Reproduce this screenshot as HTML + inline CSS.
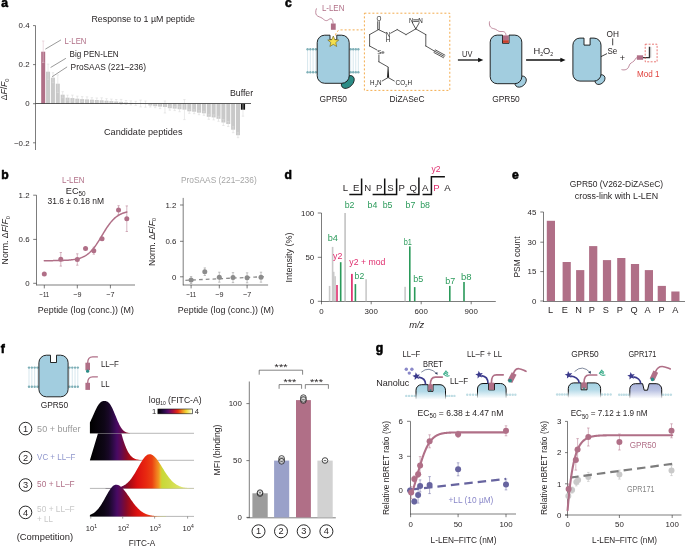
<!DOCTYPE html>
<html><head><meta charset="utf-8"><title>Figure</title>
<style>html,body{margin:0;padding:0;background:#fff}svg{display:block}text{font-family:'Liberation Sans', Arial, sans-serif}</style>
</head><body>
<svg width="685" height="547" viewBox="0 0 685 547" style="will-change:transform;opacity:0.999">
<rect width="685" height="547" fill="#fff"/>
<g id="panel-a">
<text x="1.30" y="6.60" font-size="12.2" fill="#000" font-weight="bold" stroke="#000" stroke-width="0.55" stroke-linejoin="round">a</text>
<text x="91.40" y="21.50" font-size="9.2" fill="#231f20" textLength="103.60" lengthAdjust="spacingAndGlyphs">Response to 1 µM peptide</text>
<line x1="35.50" y1="25.60" x2="35.50" y2="150.00" stroke="#3c3c3c" stroke-width="0.67"/>
<line x1="33.00" y1="25.60" x2="35.50" y2="25.60" stroke="#3c3c3c" stroke-width="0.67"/>
<text x="29.60" y="28.30" font-size="7.6" text-anchor="end" fill="#231f20" textLength="10.99" lengthAdjust="spacingAndGlyphs">0.4</text>
<line x1="33.00" y1="64.60" x2="35.50" y2="64.60" stroke="#3c3c3c" stroke-width="0.67"/>
<text x="29.60" y="67.30" font-size="7.6" text-anchor="end" fill="#231f20" textLength="10.99" lengthAdjust="spacingAndGlyphs">0.2</text>
<line x1="33.00" y1="103.70" x2="35.50" y2="103.70" stroke="#3c3c3c" stroke-width="0.67"/>
<text x="29.60" y="106.40" font-size="7.6" text-anchor="end" fill="#231f20" textLength="4.40" lengthAdjust="spacingAndGlyphs">0</text>
<line x1="33.00" y1="142.80" x2="35.50" y2="142.80" stroke="#3c3c3c" stroke-width="0.67"/>
<text x="29.60" y="145.50" font-size="7.6" text-anchor="end" fill="#231f20" textLength="15.60" lengthAdjust="spacingAndGlyphs">−0.2</text>
<text x="7.00" y="89.40" font-size="9.2" text-anchor="middle" fill="#231f20" textLength="21.80" lengthAdjust="spacingAndGlyphs" transform="rotate(-90 7.00 89.40)">Δ<tspan font-style="italic">F</tspan>/<tspan font-style="italic">F</tspan><tspan dy="1.8" font-size="6">0</tspan></text>
<rect x="41.20" y="51.70" width="4.00" height="52.00" fill="#b06f87"/>
<line x1="43.20" y1="41.00" x2="43.20" y2="62.40" stroke="#e3c3cf" stroke-width="0.6"/>
<line x1="42.00" y1="41.00" x2="44.40" y2="41.00" stroke="#e3c3cf" stroke-width="0.6"/>
<line x1="42.00" y1="62.40" x2="44.40" y2="62.40" stroke="#e3c3cf" stroke-width="0.6"/>
<rect x="46.07" y="71.70" width="4.00" height="32.00" fill="#c9c9c9"/>
<line x1="48.07" y1="64.10" x2="48.07" y2="79.30" stroke="#dcdcdc" stroke-width="0.6"/>
<line x1="46.87" y1="64.10" x2="49.27" y2="64.10" stroke="#dcdcdc" stroke-width="0.6"/>
<line x1="46.87" y1="79.30" x2="49.27" y2="79.30" stroke="#dcdcdc" stroke-width="0.6"/>
<rect x="50.94" y="77.70" width="4.00" height="26.00" fill="#c9c9c9"/>
<line x1="52.94" y1="72.70" x2="52.94" y2="82.70" stroke="#dcdcdc" stroke-width="0.6"/>
<line x1="51.74" y1="72.70" x2="54.14" y2="72.70" stroke="#dcdcdc" stroke-width="0.6"/>
<line x1="51.74" y1="82.70" x2="54.14" y2="82.70" stroke="#dcdcdc" stroke-width="0.6"/>
<rect x="55.81" y="83.70" width="4.00" height="20.00" fill="#c9c9c9"/>
<line x1="57.81" y1="74.90" x2="57.81" y2="92.50" stroke="#dcdcdc" stroke-width="0.6"/>
<line x1="56.61" y1="74.90" x2="59.01" y2="74.90" stroke="#dcdcdc" stroke-width="0.6"/>
<line x1="56.61" y1="92.50" x2="59.01" y2="92.50" stroke="#dcdcdc" stroke-width="0.6"/>
<rect x="60.68" y="94.70" width="4.00" height="9.00" fill="#c9c9c9"/>
<line x1="62.68" y1="91.70" x2="62.68" y2="97.70" stroke="#dcdcdc" stroke-width="0.6"/>
<line x1="61.48" y1="91.70" x2="63.88" y2="91.70" stroke="#dcdcdc" stroke-width="0.6"/>
<line x1="61.48" y1="97.70" x2="63.88" y2="97.70" stroke="#dcdcdc" stroke-width="0.6"/>
<rect x="65.55" y="97.70" width="4.00" height="6.00" fill="#c9c9c9"/>
<line x1="67.55" y1="95.20" x2="67.55" y2="100.20" stroke="#dcdcdc" stroke-width="0.6"/>
<line x1="66.35" y1="95.20" x2="68.75" y2="95.20" stroke="#dcdcdc" stroke-width="0.6"/>
<line x1="66.35" y1="100.20" x2="68.75" y2="100.20" stroke="#dcdcdc" stroke-width="0.6"/>
<rect x="70.42" y="98.10" width="4.00" height="5.60" fill="#c9c9c9"/>
<line x1="72.42" y1="95.10" x2="72.42" y2="101.10" stroke="#dcdcdc" stroke-width="0.6"/>
<line x1="71.22" y1="95.10" x2="73.62" y2="95.10" stroke="#dcdcdc" stroke-width="0.6"/>
<line x1="71.22" y1="101.10" x2="73.62" y2="101.10" stroke="#dcdcdc" stroke-width="0.6"/>
<rect x="75.29" y="98.70" width="4.00" height="5.00" fill="#c9c9c9"/>
<line x1="77.29" y1="96.20" x2="77.29" y2="101.20" stroke="#dcdcdc" stroke-width="0.6"/>
<line x1="76.09" y1="96.20" x2="78.49" y2="96.20" stroke="#dcdcdc" stroke-width="0.6"/>
<line x1="76.09" y1="101.20" x2="78.49" y2="101.20" stroke="#dcdcdc" stroke-width="0.6"/>
<rect x="80.16" y="99.10" width="4.00" height="4.60" fill="#c9c9c9"/>
<line x1="82.16" y1="96.60" x2="82.16" y2="101.60" stroke="#dcdcdc" stroke-width="0.6"/>
<line x1="80.96" y1="96.60" x2="83.36" y2="96.60" stroke="#dcdcdc" stroke-width="0.6"/>
<line x1="80.96" y1="101.60" x2="83.36" y2="101.60" stroke="#dcdcdc" stroke-width="0.6"/>
<rect x="85.03" y="99.40" width="4.00" height="4.30" fill="#c9c9c9"/>
<line x1="87.03" y1="96.90" x2="87.03" y2="101.90" stroke="#dcdcdc" stroke-width="0.6"/>
<line x1="85.83" y1="96.90" x2="88.23" y2="96.90" stroke="#dcdcdc" stroke-width="0.6"/>
<line x1="85.83" y1="101.90" x2="88.23" y2="101.90" stroke="#dcdcdc" stroke-width="0.6"/>
<rect x="89.90" y="99.70" width="4.00" height="4.00" fill="#c9c9c9"/>
<line x1="91.90" y1="97.70" x2="91.90" y2="101.70" stroke="#dcdcdc" stroke-width="0.6"/>
<line x1="90.70" y1="97.70" x2="93.10" y2="97.70" stroke="#dcdcdc" stroke-width="0.6"/>
<line x1="90.70" y1="101.70" x2="93.10" y2="101.70" stroke="#dcdcdc" stroke-width="0.6"/>
<rect x="94.77" y="100.00" width="4.00" height="3.70" fill="#c9c9c9"/>
<line x1="96.77" y1="98.00" x2="96.77" y2="102.00" stroke="#dcdcdc" stroke-width="0.6"/>
<line x1="95.57" y1="98.00" x2="97.97" y2="98.00" stroke="#dcdcdc" stroke-width="0.6"/>
<line x1="95.57" y1="102.00" x2="97.97" y2="102.00" stroke="#dcdcdc" stroke-width="0.6"/>
<rect x="99.64" y="100.30" width="4.00" height="3.40" fill="#c9c9c9"/>
<line x1="101.64" y1="97.80" x2="101.64" y2="102.80" stroke="#dcdcdc" stroke-width="0.6"/>
<line x1="100.44" y1="97.80" x2="102.84" y2="97.80" stroke="#dcdcdc" stroke-width="0.6"/>
<line x1="100.44" y1="102.80" x2="102.84" y2="102.80" stroke="#dcdcdc" stroke-width="0.6"/>
<rect x="104.51" y="100.70" width="4.00" height="3.00" fill="#c9c9c9"/>
<line x1="106.51" y1="98.70" x2="106.51" y2="102.70" stroke="#dcdcdc" stroke-width="0.6"/>
<line x1="105.31" y1="98.70" x2="107.71" y2="98.70" stroke="#dcdcdc" stroke-width="0.6"/>
<line x1="105.31" y1="102.70" x2="107.71" y2="102.70" stroke="#dcdcdc" stroke-width="0.6"/>
<rect x="109.38" y="101.10" width="4.00" height="2.60" fill="#c9c9c9"/>
<line x1="111.38" y1="99.10" x2="111.38" y2="103.10" stroke="#dcdcdc" stroke-width="0.6"/>
<line x1="110.18" y1="99.10" x2="112.58" y2="99.10" stroke="#dcdcdc" stroke-width="0.6"/>
<line x1="110.18" y1="103.10" x2="112.58" y2="103.10" stroke="#dcdcdc" stroke-width="0.6"/>
<rect x="114.25" y="101.50" width="4.00" height="2.20" fill="#c9c9c9"/>
<line x1="116.25" y1="99.50" x2="116.25" y2="103.50" stroke="#dcdcdc" stroke-width="0.6"/>
<line x1="115.05" y1="99.50" x2="117.45" y2="99.50" stroke="#dcdcdc" stroke-width="0.6"/>
<line x1="115.05" y1="103.50" x2="117.45" y2="103.50" stroke="#dcdcdc" stroke-width="0.6"/>
<rect x="119.12" y="101.90" width="4.00" height="1.80" fill="#c9c9c9"/>
<line x1="121.12" y1="99.40" x2="121.12" y2="104.40" stroke="#dcdcdc" stroke-width="0.6"/>
<line x1="119.92" y1="99.40" x2="122.32" y2="99.40" stroke="#dcdcdc" stroke-width="0.6"/>
<line x1="119.92" y1="104.40" x2="122.32" y2="104.40" stroke="#dcdcdc" stroke-width="0.6"/>
<rect x="123.99" y="102.50" width="4.00" height="1.20" fill="#c9c9c9"/>
<line x1="125.99" y1="100.50" x2="125.99" y2="104.50" stroke="#dcdcdc" stroke-width="0.6"/>
<line x1="124.79" y1="100.50" x2="127.19" y2="100.50" stroke="#dcdcdc" stroke-width="0.6"/>
<line x1="124.79" y1="104.50" x2="127.19" y2="104.50" stroke="#dcdcdc" stroke-width="0.6"/>
<rect x="128.86" y="102.90" width="4.00" height="0.80" fill="#c9c9c9"/>
<line x1="130.86" y1="100.90" x2="130.86" y2="104.90" stroke="#dcdcdc" stroke-width="0.6"/>
<line x1="129.66" y1="100.90" x2="132.06" y2="100.90" stroke="#dcdcdc" stroke-width="0.6"/>
<line x1="129.66" y1="104.90" x2="132.06" y2="104.90" stroke="#dcdcdc" stroke-width="0.6"/>
<rect x="133.73" y="103.30" width="4.00" height="0.40" fill="#c9c9c9"/>
<line x1="135.73" y1="101.30" x2="135.73" y2="105.30" stroke="#dcdcdc" stroke-width="0.6"/>
<line x1="134.53" y1="101.30" x2="136.93" y2="101.30" stroke="#dcdcdc" stroke-width="0.6"/>
<line x1="134.53" y1="105.30" x2="136.93" y2="105.30" stroke="#dcdcdc" stroke-width="0.6"/>
<rect x="138.60" y="103.50" width="4.00" height="0.20" fill="#c9c9c9"/>
<line x1="140.60" y1="100.10" x2="140.60" y2="106.90" stroke="#dcdcdc" stroke-width="0.6"/>
<line x1="139.40" y1="100.10" x2="141.80" y2="100.10" stroke="#dcdcdc" stroke-width="0.6"/>
<line x1="139.40" y1="106.90" x2="141.80" y2="106.90" stroke="#dcdcdc" stroke-width="0.6"/>
<rect x="143.47" y="103.70" width="4.00" height="0.40" fill="#c9c9c9"/>
<line x1="145.47" y1="101.00" x2="145.47" y2="107.20" stroke="#dcdcdc" stroke-width="0.6"/>
<line x1="144.27" y1="101.00" x2="146.67" y2="101.00" stroke="#dcdcdc" stroke-width="0.6"/>
<line x1="144.27" y1="107.20" x2="146.67" y2="107.20" stroke="#dcdcdc" stroke-width="0.6"/>
<rect x="148.34" y="103.70" width="4.00" height="1.80" fill="#c9c9c9"/>
<line x1="150.34" y1="104.00" x2="150.34" y2="107.00" stroke="#dcdcdc" stroke-width="0.6"/>
<line x1="149.14" y1="104.00" x2="151.54" y2="104.00" stroke="#dcdcdc" stroke-width="0.6"/>
<line x1="149.14" y1="107.00" x2="151.54" y2="107.00" stroke="#dcdcdc" stroke-width="0.6"/>
<rect x="153.21" y="103.70" width="4.00" height="2.50" fill="#c9c9c9"/>
<line x1="155.21" y1="104.70" x2="155.21" y2="107.70" stroke="#dcdcdc" stroke-width="0.6"/>
<line x1="154.01" y1="104.70" x2="156.41" y2="104.70" stroke="#dcdcdc" stroke-width="0.6"/>
<line x1="154.01" y1="107.70" x2="156.41" y2="107.70" stroke="#dcdcdc" stroke-width="0.6"/>
<rect x="158.08" y="103.70" width="4.00" height="2.90" fill="#c9c9c9"/>
<line x1="160.08" y1="104.60" x2="160.08" y2="108.60" stroke="#dcdcdc" stroke-width="0.6"/>
<line x1="158.88" y1="104.60" x2="161.28" y2="104.60" stroke="#dcdcdc" stroke-width="0.6"/>
<line x1="158.88" y1="108.60" x2="161.28" y2="108.60" stroke="#dcdcdc" stroke-width="0.6"/>
<rect x="162.95" y="103.70" width="4.00" height="3.30" fill="#c9c9c9"/>
<line x1="164.95" y1="101.00" x2="164.95" y2="113.00" stroke="#dcdcdc" stroke-width="0.6"/>
<line x1="163.75" y1="101.00" x2="166.15" y2="101.00" stroke="#dcdcdc" stroke-width="0.6"/>
<line x1="163.75" y1="113.00" x2="166.15" y2="113.00" stroke="#dcdcdc" stroke-width="0.6"/>
<rect x="167.82" y="103.70" width="4.00" height="4.50" fill="#c9c9c9"/>
<line x1="169.82" y1="106.20" x2="169.82" y2="110.20" stroke="#dcdcdc" stroke-width="0.6"/>
<line x1="168.62" y1="106.20" x2="171.02" y2="106.20" stroke="#dcdcdc" stroke-width="0.6"/>
<line x1="168.62" y1="110.20" x2="171.02" y2="110.20" stroke="#dcdcdc" stroke-width="0.6"/>
<rect x="172.69" y="103.70" width="4.00" height="4.90" fill="#c9c9c9"/>
<line x1="174.69" y1="106.60" x2="174.69" y2="110.60" stroke="#dcdcdc" stroke-width="0.6"/>
<line x1="173.49" y1="106.60" x2="175.89" y2="106.60" stroke="#dcdcdc" stroke-width="0.6"/>
<line x1="173.49" y1="110.60" x2="175.89" y2="110.60" stroke="#dcdcdc" stroke-width="0.6"/>
<rect x="177.56" y="103.70" width="4.00" height="5.50" fill="#c9c9c9"/>
<line x1="179.56" y1="106.70" x2="179.56" y2="111.70" stroke="#dcdcdc" stroke-width="0.6"/>
<line x1="178.36" y1="106.70" x2="180.76" y2="106.70" stroke="#dcdcdc" stroke-width="0.6"/>
<line x1="178.36" y1="111.70" x2="180.76" y2="111.70" stroke="#dcdcdc" stroke-width="0.6"/>
<rect x="182.43" y="103.70" width="4.00" height="5.90" fill="#c9c9c9"/>
<line x1="184.43" y1="99.60" x2="184.43" y2="119.60" stroke="#dcdcdc" stroke-width="0.6"/>
<line x1="183.23" y1="99.60" x2="185.63" y2="99.60" stroke="#dcdcdc" stroke-width="0.6"/>
<line x1="183.23" y1="119.60" x2="185.63" y2="119.60" stroke="#dcdcdc" stroke-width="0.6"/>
<rect x="187.30" y="103.70" width="4.00" height="7.60" fill="#c9c9c9"/>
<line x1="189.30" y1="109.30" x2="189.30" y2="113.30" stroke="#dcdcdc" stroke-width="0.6"/>
<line x1="188.10" y1="109.30" x2="190.50" y2="109.30" stroke="#dcdcdc" stroke-width="0.6"/>
<line x1="188.10" y1="113.30" x2="190.50" y2="113.30" stroke="#dcdcdc" stroke-width="0.6"/>
<rect x="192.17" y="103.70" width="4.00" height="8.00" fill="#c9c9c9"/>
<line x1="194.17" y1="109.70" x2="194.17" y2="113.70" stroke="#dcdcdc" stroke-width="0.6"/>
<line x1="192.97" y1="109.70" x2="195.37" y2="109.70" stroke="#dcdcdc" stroke-width="0.6"/>
<line x1="192.97" y1="113.70" x2="195.37" y2="113.70" stroke="#dcdcdc" stroke-width="0.6"/>
<rect x="197.04" y="103.70" width="4.00" height="9.00" fill="#c9c9c9"/>
<line x1="199.04" y1="110.70" x2="199.04" y2="114.70" stroke="#dcdcdc" stroke-width="0.6"/>
<line x1="197.84" y1="110.70" x2="200.24" y2="110.70" stroke="#dcdcdc" stroke-width="0.6"/>
<line x1="197.84" y1="114.70" x2="200.24" y2="114.70" stroke="#dcdcdc" stroke-width="0.6"/>
<rect x="201.91" y="103.70" width="4.00" height="9.60" fill="#c9c9c9"/>
<line x1="203.91" y1="111.30" x2="203.91" y2="115.30" stroke="#dcdcdc" stroke-width="0.6"/>
<line x1="202.71" y1="111.30" x2="205.11" y2="111.30" stroke="#dcdcdc" stroke-width="0.6"/>
<line x1="202.71" y1="115.30" x2="205.11" y2="115.30" stroke="#dcdcdc" stroke-width="0.6"/>
<rect x="206.78" y="103.70" width="4.00" height="13.10" fill="#c9c9c9"/>
<line x1="208.78" y1="114.30" x2="208.78" y2="119.30" stroke="#dcdcdc" stroke-width="0.6"/>
<line x1="207.58" y1="114.30" x2="209.98" y2="114.30" stroke="#dcdcdc" stroke-width="0.6"/>
<line x1="207.58" y1="119.30" x2="209.98" y2="119.30" stroke="#dcdcdc" stroke-width="0.6"/>
<rect x="211.65" y="103.70" width="4.00" height="13.70" fill="#c9c9c9"/>
<line x1="213.65" y1="114.90" x2="213.65" y2="119.90" stroke="#dcdcdc" stroke-width="0.6"/>
<line x1="212.45" y1="114.90" x2="214.85" y2="114.90" stroke="#dcdcdc" stroke-width="0.6"/>
<line x1="212.45" y1="119.90" x2="214.85" y2="119.90" stroke="#dcdcdc" stroke-width="0.6"/>
<rect x="216.52" y="103.70" width="4.00" height="15.10" fill="#c9c9c9"/>
<line x1="218.52" y1="116.30" x2="218.52" y2="121.30" stroke="#dcdcdc" stroke-width="0.6"/>
<line x1="217.32" y1="116.30" x2="219.72" y2="116.30" stroke="#dcdcdc" stroke-width="0.6"/>
<line x1="217.32" y1="121.30" x2="219.72" y2="121.30" stroke="#dcdcdc" stroke-width="0.6"/>
<rect x="221.39" y="103.70" width="4.00" height="18.80" fill="#c9c9c9"/>
<line x1="223.39" y1="119.50" x2="223.39" y2="125.50" stroke="#dcdcdc" stroke-width="0.6"/>
<line x1="222.19" y1="119.50" x2="224.59" y2="119.50" stroke="#dcdcdc" stroke-width="0.6"/>
<line x1="222.19" y1="125.50" x2="224.59" y2="125.50" stroke="#dcdcdc" stroke-width="0.6"/>
<rect x="226.26" y="103.70" width="4.00" height="20.30" fill="#c9c9c9"/>
<line x1="228.26" y1="121.50" x2="228.26" y2="126.50" stroke="#dcdcdc" stroke-width="0.6"/>
<line x1="227.06" y1="121.50" x2="229.46" y2="121.50" stroke="#dcdcdc" stroke-width="0.6"/>
<line x1="227.06" y1="126.50" x2="229.46" y2="126.50" stroke="#dcdcdc" stroke-width="0.6"/>
<rect x="231.13" y="103.70" width="4.00" height="26.00" fill="#c9c9c9"/>
<line x1="233.13" y1="126.70" x2="233.13" y2="132.70" stroke="#dcdcdc" stroke-width="0.6"/>
<line x1="231.93" y1="126.70" x2="234.33" y2="126.70" stroke="#dcdcdc" stroke-width="0.6"/>
<line x1="231.93" y1="132.70" x2="234.33" y2="132.70" stroke="#dcdcdc" stroke-width="0.6"/>
<rect x="236.00" y="103.70" width="4.00" height="31.50" fill="#c9c9c9"/>
<line x1="238.00" y1="132.70" x2="238.00" y2="137.70" stroke="#dcdcdc" stroke-width="0.6"/>
<line x1="236.80" y1="132.70" x2="239.20" y2="132.70" stroke="#dcdcdc" stroke-width="0.6"/>
<line x1="236.80" y1="137.70" x2="239.20" y2="137.70" stroke="#dcdcdc" stroke-width="0.6"/>
<rect x="240.87" y="103.70" width="4.20" height="6.00" fill="#111"/>
<line x1="242.97" y1="103.70" x2="242.97" y2="116.20" stroke="#dcdcdc" stroke-width="0.6"/>
<line x1="241.77" y1="116.20" x2="244.17" y2="116.20" stroke="#dcdcdc" stroke-width="0.6"/>
<line x1="35.50" y1="103.50" x2="251.00" y2="103.50" stroke="#333" stroke-width="0.8"/>
<text x="64.50" y="43.60" font-size="9.2" fill="#b06f87" textLength="21.90" lengthAdjust="spacingAndGlyphs">L-LEN</text>
<text x="69.60" y="56.70" font-size="9.2" fill="#231f20" textLength="49.10" lengthAdjust="spacingAndGlyphs">Big PEN-LEN</text>
<text x="70.60" y="69.60" font-size="9.2" fill="#231f20" textLength="75.40" lengthAdjust="spacingAndGlyphs">ProSAAS (221–236)</text>
<line x1="45.40" y1="49.10" x2="61.00" y2="39.90" stroke="#555" stroke-width="0.6"/>
<line x1="50.60" y1="67.50" x2="65.90" y2="58.30" stroke="#555" stroke-width="0.6"/>
<line x1="52.20" y1="76.70" x2="67.10" y2="66.90" stroke="#555" stroke-width="0.6"/>
<text x="229.90" y="96.30" font-size="9.2" fill="#231f20" textLength="23.30" lengthAdjust="spacingAndGlyphs">Buffer</text>
<text x="104.00" y="134.80" font-size="9.2" fill="#231f20" textLength="78.50" lengthAdjust="spacingAndGlyphs">Candidate peptides</text>
</g>
<g id="panel-b">
<text x="1.30" y="179.00" font-size="12.2" fill="#000" font-weight="bold" stroke="#000" stroke-width="0.55" stroke-linejoin="round">b</text>
<text x="62.00" y="182.50" font-size="9.2" fill="#b06f87" textLength="22.50" lengthAdjust="spacingAndGlyphs">L-LEN</text>
<text x="75.70" y="193.80" font-size="9.2" text-anchor="middle" fill="#231f20">EC<tspan dy="2" font-size="6.4">50</tspan></text>
<text x="47.50" y="204.40" font-size="9.2" fill="#231f20" textLength="56.50" lengthAdjust="spacingAndGlyphs">31.6 ± 0.18 nM</text>
<line x1="36.50" y1="195.20" x2="36.50" y2="285.30" stroke="#3c3c3c" stroke-width="0.67"/>
<line x1="36.20" y1="285.00" x2="135.00" y2="285.00" stroke="#3c3c3c" stroke-width="0.67"/>
<line x1="33.20" y1="195.20" x2="36.50" y2="195.20" stroke="#3c3c3c" stroke-width="0.67"/>
<text x="29.60" y="197.90" font-size="7.6" text-anchor="end" fill="#231f20" textLength="10.99" lengthAdjust="spacingAndGlyphs">1.2</text>
<line x1="33.20" y1="239.40" x2="36.50" y2="239.40" stroke="#3c3c3c" stroke-width="0.67"/>
<text x="29.60" y="242.10" font-size="7.6" text-anchor="end" fill="#231f20" textLength="10.99" lengthAdjust="spacingAndGlyphs">0.6</text>
<line x1="33.20" y1="283.30" x2="36.50" y2="283.30" stroke="#3c3c3c" stroke-width="0.67"/>
<text x="29.60" y="286.00" font-size="7.6" text-anchor="end" fill="#231f20" textLength="4.40" lengthAdjust="spacingAndGlyphs">0</text>
<line x1="44.30" y1="285.00" x2="44.30" y2="288.40" stroke="#3c3c3c" stroke-width="0.67"/>
<text x="44.30" y="297.20" font-size="7.6" text-anchor="middle" fill="#231f20" textLength="9.86" lengthAdjust="spacingAndGlyphs">−11</text>
<line x1="77.30" y1="285.00" x2="77.30" y2="288.40" stroke="#3c3c3c" stroke-width="0.67"/>
<text x="77.30" y="297.20" font-size="7.6" text-anchor="middle" fill="#231f20" textLength="8.23" lengthAdjust="spacingAndGlyphs">−9</text>
<line x1="110.40" y1="285.00" x2="110.40" y2="288.40" stroke="#3c3c3c" stroke-width="0.67"/>
<text x="110.40" y="297.20" font-size="7.6" text-anchor="middle" fill="#231f20" textLength="8.23" lengthAdjust="spacingAndGlyphs">−7</text>
<text x="37.80" y="312.80" font-size="9.2" fill="#231f20" textLength="96.10" lengthAdjust="spacingAndGlyphs">Peptide (log (conc.)) (M)</text>
<text x="8.00" y="240.20" font-size="9.2" text-anchor="middle" fill="#231f20" textLength="48.40" lengthAdjust="spacingAndGlyphs" transform="rotate(-90 8.00 240.20)">Norm. Δ<tspan font-style="italic">F</tspan>/<tspan font-style="italic">F</tspan><tspan dy="1.8" font-size="6">0</tspan></text>
<path d="M44.30 260.68 L45.13 260.67 L45.95 260.67 L46.78 260.67 L47.60 260.66 L48.42 260.66 L49.25 260.65 L50.07 260.65 L50.90 260.64 L51.72 260.64 L52.55 260.63 L53.38 260.62 L54.20 260.61 L55.03 260.60 L55.85 260.59 L56.67 260.58 L57.50 260.56 L58.32 260.55 L59.15 260.53 L59.97 260.51 L60.80 260.49 L61.63 260.46 L62.45 260.44 L63.28 260.41 L64.10 260.37 L64.92 260.33 L65.75 260.29 L66.57 260.25 L67.40 260.19 L68.22 260.14 L69.05 260.07 L69.88 260.00 L70.70 259.92 L71.53 259.83 L72.35 259.73 L73.17 259.62 L74.00 259.50 L74.82 259.37 L75.65 259.22 L76.47 259.05 L77.30 258.87 L78.12 258.67 L78.95 258.44 L79.78 258.20 L80.60 257.92 L81.42 257.62 L82.25 257.29 L83.07 256.92 L83.90 256.52 L84.72 256.09 L85.55 255.61 L86.38 255.08 L87.20 254.51 L88.03 253.89 L88.85 253.22 L89.67 252.50 L90.50 251.72 L91.32 250.88 L92.15 249.99 L92.97 249.04 L93.80 248.03 L94.62 246.96 L95.45 245.84 L96.28 244.67 L97.10 243.45 L97.92 242.19 L98.75 240.89 L99.57 239.56 L100.40 238.20 L101.22 236.83 L102.05 235.45 L102.88 234.07 L103.70 232.70 L104.53 231.34 L105.35 230.01 L106.17 228.71 L107.00 227.45 L107.82 226.23 L108.65 225.06 L109.47 223.94 L110.30 222.87 L111.12 221.86 L111.95 220.91 L112.78 220.02 L113.60 219.18 L114.42 218.40 L115.25 217.68 L116.07 217.01 L116.90 216.39 L117.72 215.82 L118.55 215.29 L119.38 214.81 L120.20 214.38 L121.03 213.98 L121.85 213.61 L122.67 213.28 L123.50 212.98 L124.32 212.70 L125.15 212.46 L125.97 212.23 L126.80 212.03" fill="none" stroke="#b06f87" stroke-width="1.5" stroke-linecap="round"/>
<line x1="60.80" y1="252.50" x2="60.80" y2="266.10" stroke="#b06f87" stroke-width="0.5"/>
<line x1="59.60" y1="252.50" x2="62.00" y2="252.50" stroke="#b06f87" stroke-width="0.5"/>
<line x1="59.60" y1="266.10" x2="62.00" y2="266.10" stroke="#b06f87" stroke-width="0.5"/>
<line x1="77.30" y1="253.80" x2="77.30" y2="265.20" stroke="#b06f87" stroke-width="0.5"/>
<line x1="76.10" y1="253.80" x2="78.50" y2="253.80" stroke="#b06f87" stroke-width="0.5"/>
<line x1="76.10" y1="265.20" x2="78.50" y2="265.20" stroke="#b06f87" stroke-width="0.5"/>
<line x1="93.80" y1="247.20" x2="93.80" y2="254.20" stroke="#b06f87" stroke-width="0.5"/>
<line x1="92.60" y1="247.20" x2="95.00" y2="247.20" stroke="#b06f87" stroke-width="0.5"/>
<line x1="92.60" y1="254.20" x2="95.00" y2="254.20" stroke="#b06f87" stroke-width="0.5"/>
<line x1="118.55" y1="205.70" x2="118.55" y2="214.50" stroke="#b06f87" stroke-width="0.5"/>
<line x1="117.35" y1="205.70" x2="119.75" y2="205.70" stroke="#b06f87" stroke-width="0.5"/>
<line x1="117.35" y1="214.50" x2="119.75" y2="214.50" stroke="#b06f87" stroke-width="0.5"/>
<line x1="126.80" y1="205.90" x2="126.80" y2="231.50" stroke="#b06f87" stroke-width="0.5"/>
<line x1="125.60" y1="205.90" x2="128.00" y2="205.90" stroke="#b06f87" stroke-width="0.5"/>
<line x1="125.60" y1="231.50" x2="128.00" y2="231.50" stroke="#b06f87" stroke-width="0.5"/>
<circle cx="44.30" cy="274.10" r="2.5" fill="#b06f87"/>
<circle cx="60.80" cy="259.30" r="2.5" fill="#b06f87"/>
<circle cx="77.30" cy="259.50" r="2.5" fill="#b06f87"/>
<circle cx="85.55" cy="248.60" r="2.5" fill="#b06f87"/>
<circle cx="93.80" cy="250.70" r="2.5" fill="#b06f87"/>
<circle cx="102.05" cy="238.80" r="2.5" fill="#b06f87"/>
<circle cx="118.55" cy="210.10" r="2.5" fill="#b06f87"/>
<circle cx="126.80" cy="218.70" r="2.5" fill="#b06f87"/>
<text x="180.90" y="182.90" font-size="9.2" fill="#a6a6a6" textLength="75.80" lengthAdjust="spacingAndGlyphs">ProSAAS (221–236)</text>
<line x1="183.20" y1="197.90" x2="183.20" y2="285.30" stroke="#3c3c3c" stroke-width="0.67"/>
<line x1="182.90" y1="285.00" x2="268.10" y2="285.00" stroke="#3c3c3c" stroke-width="0.67"/>
<line x1="180.00" y1="205.00" x2="183.20" y2="205.00" stroke="#3c3c3c" stroke-width="0.67"/>
<text x="176.40" y="207.70" font-size="7.6" text-anchor="end" fill="#231f20" textLength="10.99" lengthAdjust="spacingAndGlyphs">1.2</text>
<line x1="180.00" y1="241.30" x2="183.20" y2="241.30" stroke="#3c3c3c" stroke-width="0.67"/>
<text x="176.40" y="244.00" font-size="7.6" text-anchor="end" fill="#231f20" textLength="10.99" lengthAdjust="spacingAndGlyphs">0.6</text>
<line x1="180.00" y1="276.80" x2="183.20" y2="276.80" stroke="#3c3c3c" stroke-width="0.67"/>
<text x="176.40" y="279.50" font-size="7.6" text-anchor="end" fill="#231f20" textLength="4.40" lengthAdjust="spacingAndGlyphs">0</text>
<line x1="191.10" y1="285.00" x2="191.10" y2="288.40" stroke="#3c3c3c" stroke-width="0.67"/>
<text x="191.10" y="297.20" font-size="7.6" text-anchor="middle" fill="#231f20" textLength="9.86" lengthAdjust="spacingAndGlyphs">−11</text>
<line x1="219.30" y1="285.00" x2="219.30" y2="288.40" stroke="#3c3c3c" stroke-width="0.67"/>
<text x="219.30" y="297.20" font-size="7.6" text-anchor="middle" fill="#231f20" textLength="8.23" lengthAdjust="spacingAndGlyphs">−9</text>
<line x1="247.10" y1="285.00" x2="247.10" y2="288.40" stroke="#3c3c3c" stroke-width="0.67"/>
<text x="247.10" y="297.20" font-size="7.6" text-anchor="middle" fill="#231f20" textLength="8.23" lengthAdjust="spacingAndGlyphs">−7</text>
<text x="177.80" y="312.80" font-size="9.2" fill="#231f20" textLength="96.10" lengthAdjust="spacingAndGlyphs">Peptide (log (conc.)) (M)</text>
<text x="154.70" y="241.90" font-size="9.2" text-anchor="middle" fill="#231f20" textLength="48.40" lengthAdjust="spacingAndGlyphs" transform="rotate(-90 154.70 241.90)">Norm. Δ<tspan font-style="italic">F</tspan>/<tspan font-style="italic">F</tspan><tspan dy="1.8" font-size="6">0</tspan></text>
<line x1="185.40" y1="280.30" x2="265.70" y2="276.60" stroke="#8c8c8c" stroke-width="1.3" stroke-dasharray="3.7 3.1"/>
<line x1="191.10" y1="276.50" x2="191.10" y2="283.50" stroke="#8c8c8c" stroke-width="0.5"/>
<line x1="189.90" y1="276.50" x2="192.30" y2="276.50" stroke="#8c8c8c" stroke-width="0.5"/>
<line x1="189.90" y1="283.50" x2="192.30" y2="283.50" stroke="#8c8c8c" stroke-width="0.5"/>
<line x1="204.80" y1="267.90" x2="204.80" y2="275.50" stroke="#8c8c8c" stroke-width="0.5"/>
<line x1="203.60" y1="267.90" x2="206.00" y2="267.90" stroke="#8c8c8c" stroke-width="0.5"/>
<line x1="203.60" y1="275.50" x2="206.00" y2="275.50" stroke="#8c8c8c" stroke-width="0.5"/>
<line x1="219.30" y1="272.20" x2="219.30" y2="282.20" stroke="#8c8c8c" stroke-width="0.5"/>
<line x1="218.10" y1="272.20" x2="220.50" y2="272.20" stroke="#8c8c8c" stroke-width="0.5"/>
<line x1="218.10" y1="282.20" x2="220.50" y2="282.20" stroke="#8c8c8c" stroke-width="0.5"/>
<line x1="233.00" y1="272.60" x2="233.00" y2="282.60" stroke="#8c8c8c" stroke-width="0.5"/>
<line x1="231.80" y1="272.60" x2="234.20" y2="272.60" stroke="#8c8c8c" stroke-width="0.5"/>
<line x1="231.80" y1="282.60" x2="234.20" y2="282.60" stroke="#8c8c8c" stroke-width="0.5"/>
<line x1="247.10" y1="272.80" x2="247.10" y2="282.80" stroke="#8c8c8c" stroke-width="0.5"/>
<line x1="245.90" y1="272.80" x2="248.30" y2="272.80" stroke="#8c8c8c" stroke-width="0.5"/>
<line x1="245.90" y1="282.80" x2="248.30" y2="282.80" stroke="#8c8c8c" stroke-width="0.5"/>
<line x1="261.00" y1="272.20" x2="261.00" y2="282.20" stroke="#8c8c8c" stroke-width="0.5"/>
<line x1="259.80" y1="272.20" x2="262.20" y2="272.20" stroke="#8c8c8c" stroke-width="0.5"/>
<line x1="259.80" y1="282.20" x2="262.20" y2="282.20" stroke="#8c8c8c" stroke-width="0.5"/>
<circle cx="191.10" cy="280.00" r="2.5" fill="#8c8c8c"/>
<circle cx="204.80" cy="271.70" r="2.5" fill="#8c8c8c"/>
<circle cx="219.30" cy="277.20" r="2.5" fill="#8c8c8c"/>
<circle cx="233.00" cy="277.60" r="2.5" fill="#8c8c8c"/>
<circle cx="247.10" cy="277.80" r="2.5" fill="#8c8c8c"/>
<circle cx="261.00" cy="277.20" r="2.5" fill="#8c8c8c"/>
</g>
<g id="panel-c">
<text x="285.00" y="7.00" font-size="12.2" fill="#000" font-weight="bold" stroke="#000" stroke-width="0.55" stroke-linejoin="round">c</text>
<line x1="307.57" y1="49.20" x2="307.57" y2="72.30" stroke="#c5dde6" stroke-width="0.7"/>
<circle cx="307.57" cy="49.20" r="1.2" fill="#7fb0b8"/>
<circle cx="307.57" cy="72.30" r="1.2" fill="#7fb0b8"/>
<line x1="310.32" y1="49.20" x2="310.32" y2="72.30" stroke="#c5dde6" stroke-width="0.7"/>
<circle cx="310.32" cy="49.20" r="1.2" fill="#7fb0b8"/>
<circle cx="310.32" cy="72.30" r="1.2" fill="#7fb0b8"/>
<line x1="313.07" y1="49.20" x2="313.07" y2="72.30" stroke="#c5dde6" stroke-width="0.7"/>
<circle cx="313.07" cy="49.20" r="1.2" fill="#7fb0b8"/>
<circle cx="313.07" cy="72.30" r="1.2" fill="#7fb0b8"/>
<line x1="315.82" y1="49.20" x2="315.82" y2="72.30" stroke="#c5dde6" stroke-width="0.7"/>
<circle cx="315.82" cy="49.20" r="1.2" fill="#7fb0b8"/>
<circle cx="315.82" cy="72.30" r="1.2" fill="#7fb0b8"/>
<line x1="350.67" y1="49.20" x2="350.67" y2="72.30" stroke="#c5dde6" stroke-width="0.7"/>
<circle cx="350.67" cy="49.20" r="1.2" fill="#7fb0b8"/>
<circle cx="350.67" cy="72.30" r="1.2" fill="#7fb0b8"/>
<line x1="353.23" y1="49.20" x2="353.23" y2="72.30" stroke="#c5dde6" stroke-width="0.7"/>
<circle cx="353.23" cy="49.20" r="1.2" fill="#7fb0b8"/>
<circle cx="353.23" cy="72.30" r="1.2" fill="#7fb0b8"/>
<line x1="355.77" y1="49.20" x2="355.77" y2="72.30" stroke="#c5dde6" stroke-width="0.7"/>
<circle cx="355.77" cy="49.20" r="1.2" fill="#7fb0b8"/>
<circle cx="355.77" cy="72.30" r="1.2" fill="#7fb0b8"/>
<line x1="358.33" y1="49.20" x2="358.33" y2="72.30" stroke="#c5dde6" stroke-width="0.7"/>
<circle cx="358.33" cy="49.20" r="1.2" fill="#7fb0b8"/>
<circle cx="358.33" cy="72.30" r="1.2" fill="#7fb0b8"/>
<ellipse cx="347.8" cy="82" rx="7.6" ry="5.1" transform="rotate(-45 347.8 82)" fill="#2b8c86" stroke="#111" stroke-width="0.8"/>
<path d="M324.70 35.20 H330.00 V39.80 H336.80 V35.20 H341.70 A7.5 7.5 0 0 1 349.20 42.70 V75.80 A7.5 7.5 0 0 1 341.70 83.30 H324.70 A7.5 7.5 0 0 1 317.20 75.80 V42.70 A7.5 7.5 0 0 1 324.70 35.20 Z" fill="#a2cddf" stroke="#111" stroke-width="0.9" stroke-linejoin="round"/>
<polygon points="333.30,36.00 334.83,39.70 338.82,40.01 335.77,42.60 336.71,46.49 333.30,44.40 329.89,46.49 330.83,42.60 327.78,40.01 331.77,39.70" fill="#f4df4d" stroke="#6b5e1a" stroke-width="0.6" stroke-linejoin="round"/>
<text x="321.90" y="11.10" font-size="9.2" fill="#b06f87" textLength="22.50" lengthAdjust="spacingAndGlyphs">L-LEN</text>
<path d="M316.5 8.4 C315.4 11 315.5 14 316.6 15.2 C318 16.8 320.5 17 322.2 18.2 C323.8 19.4 324.8 20.8 326.6 20.6 C328.4 20.4 329 18.6 331 18.7 C332.6 18.8 333 21 333.1 23.6" fill="none" stroke="#b06f87" stroke-width="0.8"/>
<rect x="330.90" y="23.50" width="4.80" height="6.30" fill="#b06f87"/>
<text x="333.30" y="101.60" font-size="9.2" text-anchor="middle" fill="#231f20" textLength="27.50" lengthAdjust="spacingAndGlyphs">GPR50</text>
<path d="M335.5 35.4 C336 31.8 338 29.9 341.2 29.9 H364.5" fill="none" stroke="#f2a33a" stroke-width="0.9" stroke-dasharray="2 2"/>
<rect x="364.4" y="13.2" width="85.4" height="77.2" fill="none" stroke="#f2a33a" stroke-width="0.9" stroke-dasharray="2 2"/>
<text x="407.00" y="101.60" font-size="9.2" text-anchor="middle" fill="#231f20" textLength="35.00" lengthAdjust="spacingAndGlyphs">DiZASeC</text>
<text x="378.90" y="20.70" font-size="6.3" text-anchor="middle" fill="#222">O</text>
<line x1="377.70" y1="21.60" x2="377.70" y2="29.30" stroke="#222" stroke-width="0.75" stroke-linecap="round"/>
<line x1="379.30" y1="21.60" x2="379.30" y2="29.30" stroke="#222" stroke-width="0.75" stroke-linecap="round"/>
<line x1="378.50" y1="29.60" x2="369.60" y2="34.60" stroke="#222" stroke-width="0.75" stroke-linecap="round"/>
<line x1="369.60" y1="34.60" x2="369.60" y2="46.00" stroke="#222" stroke-width="0.75" stroke-linecap="round"/>
<line x1="369.60" y1="46.00" x2="377.00" y2="50.00" stroke="#222" stroke-width="0.75" stroke-linecap="round"/>
<text x="380.90" y="53.80" font-size="6.1" text-anchor="middle" fill="#222">Se</text>
<line x1="378.90" y1="54.90" x2="378.90" y2="61.80" stroke="#222" stroke-width="0.75" stroke-linecap="round"/>
<line x1="378.90" y1="61.80" x2="388.10" y2="67.00" stroke="#222" stroke-width="0.75" stroke-linecap="round"/>
<polygon points="387.7,67 388.5,67 389.2,77.5 387,77.5" fill="#222"/>
<line x1="388.10" y1="77.50" x2="382.20" y2="81.00" stroke="#222" stroke-width="0.75" stroke-linecap="round"/>
<line x1="388.10" y1="77.50" x2="394.30" y2="81.00" stroke="#222" stroke-width="0.75" stroke-linecap="round"/>
<text x="370.10" y="85.30" font-size="6.3" fill="#222">H<tspan dy="1.3" font-size="4.4">2</tspan><tspan dy="-1.3">N</tspan></text>
<text x="395.60" y="85.30" font-size="6.3" fill="#222">CO<tspan dy="1.3" font-size="4.4">2</tspan><tspan dy="-1.3">H</tspan></text>
<line x1="378.50" y1="29.60" x2="385.60" y2="33.00" stroke="#222" stroke-width="0.75" stroke-linecap="round"/>
<text x="388.10" y="36.60" font-size="6.3" text-anchor="middle" fill="#222">N</text>
<text x="388.10" y="41.80" font-size="6.3" text-anchor="middle" fill="#222">H</text>
<line x1="390.60" y1="33.20" x2="397.20" y2="29.60" stroke="#222" stroke-width="0.75" stroke-linecap="round"/>
<line x1="397.20" y1="29.60" x2="406.00" y2="34.60" stroke="#222" stroke-width="0.75" stroke-linecap="round"/>
<line x1="406.00" y1="34.60" x2="415.80" y2="28.90" stroke="#222" stroke-width="0.75" stroke-linecap="round"/>
<line x1="415.80" y1="28.90" x2="412.60" y2="23.20" stroke="#222" stroke-width="0.75" stroke-linecap="round"/>
<line x1="415.80" y1="28.90" x2="419.00" y2="23.20" stroke="#222" stroke-width="0.75" stroke-linecap="round"/>
<text x="411.30" y="22.60" font-size="6.3" text-anchor="middle" fill="#222">N</text>
<text x="420.60" y="22.60" font-size="6.3" text-anchor="middle" fill="#222">N</text>
<line x1="413.60" y1="19.80" x2="418.30" y2="19.80" stroke="#222" stroke-width="0.75" stroke-linecap="round"/>
<line x1="413.60" y1="21.40" x2="418.30" y2="21.40" stroke="#222" stroke-width="0.75" stroke-linecap="round"/>
<line x1="415.80" y1="28.90" x2="425.80" y2="34.60" stroke="#222" stroke-width="0.75" stroke-linecap="round"/>
<line x1="425.80" y1="34.60" x2="425.80" y2="46.00" stroke="#222" stroke-width="0.75" stroke-linecap="round"/>
<line x1="425.80" y1="46.00" x2="434.60" y2="51.20" stroke="#222" stroke-width="0.75" stroke-linecap="round"/>
<line x1="434.60" y1="51.20" x2="444.20" y2="56.40" stroke="#222" stroke-width="0.75" stroke-linecap="round"/>
<line x1="435.30" y1="49.90" x2="444.90" y2="55.10" stroke="#222" stroke-width="0.75" stroke-linecap="round"/>
<line x1="433.90" y1="52.50" x2="443.50" y2="57.70" stroke="#222" stroke-width="0.75" stroke-linecap="round"/>
<line x1="457.90" y1="60.00" x2="479.30" y2="60.00" stroke="#111" stroke-width="1.3"/>
<polygon points="483.30,60.00 478.10,57.70 478.10,62.30" fill="#111"/>
<text x="462.10" y="57.40" font-size="9.2" fill="#231f20" textLength="10.20" lengthAdjust="spacingAndGlyphs">UV</text>
<ellipse cx="520.6" cy="81.6" rx="6.4" ry="4.8" transform="rotate(-42 520.6 81.6)" fill="#a2cddf" stroke="#111" stroke-width="0.8"/>
<path d="M497.20 35.10 H502.50 V43.30 H509.00 V35.10 H514.80 A7 7 0 0 1 521.80 42.10 V76.70 A7 7 0 0 1 514.80 83.70 H497.20 A7 7 0 0 1 490.20 76.70 V42.10 A7 7 0 0 1 497.20 35.10 Z" fill="#a2cddf" stroke="#111" stroke-width="0.9" stroke-linejoin="round"/>
<rect x="502.90" y="35.40" width="5.70" height="5.00" fill="#b06f87"/>
<rect x="502.90" y="40.20" width="5.70" height="2.70" fill="#c8402c"/>
<path d="M489.6 21.4 C488.8 25 490 28 493.5 28.6 C497 29.2 498 32 501 31.6 C504 31.2 505.8 32 506 35.4" fill="none" stroke="#b06f87" stroke-width="0.8"/>
<text x="506.00" y="101.80" font-size="9.2" text-anchor="middle" fill="#231f20" textLength="27.50" lengthAdjust="spacingAndGlyphs">GPR50</text>
<line x1="526.10" y1="60.00" x2="561.60" y2="60.00" stroke="#111" stroke-width="1.3"/>
<polygon points="565.60,60.00 560.40,57.70 560.40,62.30" fill="#111"/>
<text x="533.50" y="53.90" font-size="9.2" fill="#231f20" textLength="19.80" lengthAdjust="spacingAndGlyphs">H<tspan dy="1.8" font-size="5.2">2</tspan><tspan dy="-1.8">O</tspan><tspan dy="1.8" font-size="5.2">2</tspan></text>
<ellipse cx="600" cy="79.6" rx="5.6" ry="4.2" transform="rotate(-42 600 79.6)" fill="#a2cddf" stroke="#111" stroke-width="0.8"/>
<path d="M579.90 38.10 H584.00 V45.10 H590.10 V38.10 H594.00 A7 7 0 0 1 601.00 45.10 V74.10 A7 7 0 0 1 594.00 81.10 H579.90 A7 7 0 0 1 572.90 74.10 V45.10 A7 7 0 0 1 579.90 38.10 Z" fill="#a2cddf" stroke="#111" stroke-width="0.9" stroke-linejoin="round"/>
<line x1="601.00" y1="56.60" x2="607.00" y2="53.60" stroke="#111" stroke-width="0.8"/>
<text x="607.50" y="54.40" font-size="9.2" fill="#231f20" textLength="9.80" lengthAdjust="spacingAndGlyphs">Se</text>
<line x1="612.70" y1="38.40" x2="612.70" y2="45.30" stroke="#111" stroke-width="0.8"/>
<text x="606.60" y="36.70" font-size="9.2" fill="#231f20" textLength="12.40" lengthAdjust="spacingAndGlyphs">OH</text>
<text x="622.40" y="61.20" font-size="9" text-anchor="middle" fill="#231f20">+</text>
<path d="M621.5 69.6 C625 70.5 628 69.5 629 66 C630 62.5 632 63 634 61 C635.5 59.3 635.5 57.8 637 57.7" fill="none" stroke="#b06f87" stroke-width="0.8"/>
<rect x="636.90" y="55.30" width="6.20" height="4.50" fill="#b06f87"/>
<path d="M643 57.7 H649.4 V46.8" fill="none" stroke="#333" stroke-width="1.2"/>
<line x1="650.70" y1="46.80" x2="650.70" y2="57.70" stroke="#999" stroke-width="0.7"/>
<rect x="645.2" y="44.2" width="11.9" height="17.6" fill="none" stroke="#e0413c" stroke-width="0.7" stroke-dasharray="2 1.4"/>
<text x="636.90" y="77.20" font-size="9.2" fill="#e0413c" textLength="22.50" lengthAdjust="spacingAndGlyphs">Mod 1</text>
</g>
<g id="panel-d">
<text x="284.40" y="178.70" font-size="12.2" fill="#000" font-weight="bold" stroke="#000" stroke-width="0.55" stroke-linejoin="round">d</text>
<text x="345.30" y="190.90" font-size="9.6" text-anchor="middle" fill="#231f20">L</text>
<text x="356.30" y="190.90" font-size="9.6" text-anchor="middle" fill="#231f20">E</text>
<text x="367.70" y="190.90" font-size="9.6" text-anchor="middle" fill="#231f20">N</text>
<text x="379.10" y="190.90" font-size="9.6" text-anchor="middle" fill="#231f20">P</text>
<text x="390.40" y="190.90" font-size="9.6" text-anchor="middle" fill="#231f20">S</text>
<text x="401.60" y="190.90" font-size="9.6" text-anchor="middle" fill="#231f20">P</text>
<text x="413.30" y="190.90" font-size="9.6" text-anchor="middle" fill="#231f20">Q</text>
<text x="425.10" y="190.90" font-size="9.6" text-anchor="middle" fill="#231f20">A</text>
<text x="436.50" y="190.90" font-size="9.6" text-anchor="middle" fill="#df2e6e">P</text>
<text x="447.50" y="190.90" font-size="9.6" text-anchor="middle" fill="#231f20">A</text>
<path d="M361.60 178.40 V194.60 H349.30" fill="none" stroke="#111" stroke-width="1.5"/>
<path d="M384.70 178.40 V194.60 H372.60" fill="none" stroke="#111" stroke-width="1.5"/>
<path d="M396.60 178.40 V194.60 H384.70" fill="none" stroke="#111" stroke-width="1.5"/>
<path d="M418.90 177.60 V194.60 H406.70" fill="none" stroke="#111" stroke-width="1.5"/>
<path d="M444.9 176.7 H431.4 V194.6 H422.6" fill="none" stroke="#111" stroke-width="1.5"/>
<text x="436.10" y="171.60" font-size="8.6" text-anchor="middle" fill="#df2e6e">y2</text>
<text x="349.60" y="207.70" font-size="9.2" text-anchor="middle" fill="#2a9a5a" textLength="9.80" lengthAdjust="spacingAndGlyphs">b2</text>
<text x="372.50" y="207.70" font-size="9.2" text-anchor="middle" fill="#2a9a5a" textLength="9.80" lengthAdjust="spacingAndGlyphs">b4</text>
<text x="387.60" y="207.70" font-size="9.2" text-anchor="middle" fill="#2a9a5a" textLength="9.80" lengthAdjust="spacingAndGlyphs">b5</text>
<text x="410.40" y="207.70" font-size="9.2" text-anchor="middle" fill="#2a9a5a" textLength="9.80" lengthAdjust="spacingAndGlyphs">b7</text>
<text x="425.10" y="207.70" font-size="9.2" text-anchor="middle" fill="#2a9a5a" textLength="9.80" lengthAdjust="spacingAndGlyphs">b8</text>
<line x1="321.50" y1="213.00" x2="321.50" y2="301.80" stroke="#3c3c3c" stroke-width="0.67"/>
<line x1="321.20" y1="301.50" x2="495.80" y2="301.50" stroke="#3c3c3c" stroke-width="0.67"/>
<line x1="317.80" y1="213.00" x2="321.50" y2="213.00" stroke="#3c3c3c" stroke-width="0.67"/>
<text x="314.20" y="215.70" font-size="7.6" text-anchor="end" fill="#231f20" textLength="13.19" lengthAdjust="spacingAndGlyphs">100</text>
<line x1="317.80" y1="257.30" x2="321.50" y2="257.30" stroke="#3c3c3c" stroke-width="0.67"/>
<text x="314.20" y="260.00" font-size="7.6" text-anchor="end" fill="#231f20" textLength="8.79" lengthAdjust="spacingAndGlyphs">50</text>
<line x1="317.80" y1="301.30" x2="321.50" y2="301.30" stroke="#3c3c3c" stroke-width="0.67"/>
<text x="314.20" y="304.00" font-size="7.6" text-anchor="end" fill="#231f20" textLength="4.40" lengthAdjust="spacingAndGlyphs">0</text>
<line x1="321.50" y1="301.50" x2="321.50" y2="304.30" stroke="#3c3c3c" stroke-width="0.67"/>
<text x="321.50" y="314.00" font-size="7.6" text-anchor="middle" fill="#231f20" textLength="4.40" lengthAdjust="spacingAndGlyphs">0</text>
<line x1="371.20" y1="301.50" x2="371.20" y2="304.30" stroke="#3c3c3c" stroke-width="0.67"/>
<text x="371.20" y="314.00" font-size="7.6" text-anchor="middle" fill="#231f20" textLength="13.19" lengthAdjust="spacingAndGlyphs">300</text>
<line x1="421.20" y1="301.50" x2="421.20" y2="304.30" stroke="#3c3c3c" stroke-width="0.67"/>
<text x="421.20" y="314.00" font-size="7.6" text-anchor="middle" fill="#231f20" textLength="13.19" lengthAdjust="spacingAndGlyphs">600</text>
<line x1="471.20" y1="301.50" x2="471.20" y2="304.30" stroke="#3c3c3c" stroke-width="0.67"/>
<text x="471.20" y="314.00" font-size="7.6" text-anchor="middle" fill="#231f20" textLength="13.19" lengthAdjust="spacingAndGlyphs">900</text>
<text x="416.70" y="327.70" font-size="9.2" text-anchor="middle" fill="#231f20" font-style="italic" textLength="15.00" lengthAdjust="spacingAndGlyphs">m/z</text>
<text x="291.80" y="257.40" font-size="9.2" text-anchor="middle" fill="#231f20" textLength="50.00" lengthAdjust="spacingAndGlyphs" transform="rotate(-90 291.80 257.40)">Intensity (%)</text>
<rect x="328.80" y="285.90" width="1.60" height="15.40" fill="#c9c9c9"/>
<rect x="331.80" y="246.90" width="1.60" height="54.40" fill="#c9c9c9"/>
<rect x="332.90" y="271.80" width="1.60" height="29.50" fill="#c9c9c9"/>
<rect x="334.30" y="276.20" width="1.60" height="25.10" fill="#c9c9c9"/>
<rect x="365.30" y="279.20" width="1.60" height="22.10" fill="#c9c9c9"/>
<rect x="404.30" y="286.80" width="1.60" height="14.50" fill="#c9c9c9"/>
<rect x="344.20" y="213.00" width="1.80" height="88.30" fill="#c9c9c9"/>
<rect x="336.20" y="285.00" width="1.60" height="16.30" fill="#df2e6e"/>
<rect x="351.05" y="273.90" width="1.70" height="27.40" fill="#df2e6e"/>
<rect x="339.90" y="262.20" width="1.60" height="39.10" fill="#2a9a5a"/>
<rect x="354.60" y="284.10" width="1.60" height="17.20" fill="#2a9a5a"/>
<rect x="409.00" y="246.40" width="1.60" height="54.90" fill="#2a9a5a"/>
<rect x="413.90" y="287.10" width="1.60" height="14.20" fill="#2a9a5a"/>
<rect x="449.00" y="285.90" width="1.60" height="15.40" fill="#2a9a5a"/>
<rect x="463.20" y="282.00" width="1.60" height="19.30" fill="#2a9a5a"/>
<text x="327.70" y="240.80" font-size="9.2" fill="#2a9a5a" textLength="10.20" lengthAdjust="spacingAndGlyphs">b4</text>
<text x="333.00" y="258.70" font-size="9.2" fill="#df2e6e" textLength="9.30" lengthAdjust="spacingAndGlyphs">y2</text>
<text x="349.30" y="264.50" font-size="9.2" fill="#df2e6e" textLength="36.00" lengthAdjust="spacingAndGlyphs">y2 + mod</text>
<text x="354.60" y="278.50" font-size="9.2" fill="#2a9a5a" textLength="9.60" lengthAdjust="spacingAndGlyphs">b2</text>
<text x="403.70" y="244.60" font-size="9.2" fill="#2a9a5a" textLength="8.20" lengthAdjust="spacingAndGlyphs">b1</text>
<text x="413.30" y="282.40" font-size="9.2" fill="#2a9a5a" textLength="10.00" lengthAdjust="spacingAndGlyphs">b5</text>
<text x="445.30" y="283.80" font-size="9.2" fill="#2a9a5a" textLength="10.00" lengthAdjust="spacingAndGlyphs">b7</text>
<text x="461.00" y="279.70" font-size="9.2" fill="#2a9a5a" textLength="10.60" lengthAdjust="spacingAndGlyphs">b8</text>
</g>
<g id="panel-e">
<text x="512.00" y="179.00" font-size="12.2" fill="#000" font-weight="bold" stroke="#000" stroke-width="0.55" stroke-linejoin="round">e</text>
<text x="569.70" y="186.50" font-size="9.2" fill="#231f20" textLength="93.40" lengthAdjust="spacingAndGlyphs">GPR50 (V262-DiZASeC)</text>
<text x="574.80" y="198.80" font-size="9.2" fill="#231f20" textLength="83.30" lengthAdjust="spacingAndGlyphs">cross-link with L-LEN</text>
<line x1="543.50" y1="212.00" x2="543.50" y2="301.80" stroke="#3c3c3c" stroke-width="0.67"/>
<line x1="543.20" y1="301.50" x2="685.00" y2="301.50" stroke="#3c3c3c" stroke-width="0.67"/>
<line x1="540.30" y1="212.00" x2="543.50" y2="212.00" stroke="#3c3c3c" stroke-width="0.67"/>
<text x="536.30" y="214.70" font-size="7.6" text-anchor="end" fill="#231f20" textLength="8.79" lengthAdjust="spacingAndGlyphs">45</text>
<line x1="540.30" y1="242.20" x2="543.50" y2="242.20" stroke="#3c3c3c" stroke-width="0.67"/>
<text x="536.30" y="244.90" font-size="7.6" text-anchor="end" fill="#231f20" textLength="8.79" lengthAdjust="spacingAndGlyphs">30</text>
<line x1="540.30" y1="271.60" x2="543.50" y2="271.60" stroke="#3c3c3c" stroke-width="0.67"/>
<text x="536.30" y="274.30" font-size="7.6" text-anchor="end" fill="#231f20" textLength="8.79" lengthAdjust="spacingAndGlyphs">15</text>
<line x1="540.30" y1="301.00" x2="543.50" y2="301.00" stroke="#3c3c3c" stroke-width="0.67"/>
<text x="536.30" y="303.70" font-size="7.6" text-anchor="end" fill="#231f20" textLength="4.40" lengthAdjust="spacingAndGlyphs">0</text>
<rect x="546.80" y="220.80" width="8.20" height="80.30" fill="#b06f87"/>
<text x="550.50" y="312.60" font-size="9.2" text-anchor="middle" fill="#231f20">L</text>
<rect x="562.60" y="262.00" width="8.20" height="39.10" fill="#b06f87"/>
<text x="564.90" y="312.60" font-size="9.2" text-anchor="middle" fill="#231f20">E</text>
<rect x="576.10" y="270.10" width="8.20" height="31.00" fill="#b06f87"/>
<text x="578.60" y="312.60" font-size="9.2" text-anchor="middle" fill="#231f20">N</text>
<rect x="589.10" y="246.10" width="8.20" height="55.00" fill="#b06f87"/>
<text x="591.90" y="312.60" font-size="9.2" text-anchor="middle" fill="#231f20">P</text>
<rect x="602.90" y="260.10" width="8.20" height="41.00" fill="#b06f87"/>
<text x="605.90" y="312.60" font-size="9.2" text-anchor="middle" fill="#231f20">S</text>
<rect x="617.20" y="258.00" width="8.20" height="43.10" fill="#b06f87"/>
<text x="619.90" y="312.60" font-size="9.2" text-anchor="middle" fill="#231f20">P</text>
<rect x="630.90" y="264.00" width="8.20" height="37.10" fill="#b06f87"/>
<text x="634.00" y="312.60" font-size="9.2" text-anchor="middle" fill="#231f20">Q</text>
<rect x="644.80" y="270.10" width="8.20" height="31.00" fill="#b06f87"/>
<text x="647.60" y="312.60" font-size="9.2" text-anchor="middle" fill="#231f20">A</text>
<rect x="657.70" y="285.90" width="8.20" height="15.20" fill="#b06f87"/>
<text x="661.50" y="312.60" font-size="9.2" text-anchor="middle" fill="#231f20">P</text>
<rect x="671.30" y="291.50" width="8.20" height="9.60" fill="#b06f87"/>
<text x="675.20" y="312.60" font-size="9.2" text-anchor="middle" fill="#231f20">A</text>
<text x="519.60" y="257.00" font-size="9.2" text-anchor="middle" fill="#231f20" textLength="41.00" lengthAdjust="spacingAndGlyphs" transform="rotate(-90 519.60 257.00)">PSM count</text>
</g>
<g id="panel-f">
<text x="0.80" y="352.70" font-size="12.2" fill="#000" font-weight="bold" stroke="#000" stroke-width="0.55" stroke-linejoin="round">f</text>
<line x1="29.01" y1="367.60" x2="29.01" y2="386.80" stroke="#c5dde6" stroke-width="0.7"/>
<circle cx="29.01" cy="367.60" r="1.2" fill="#7fb0b8"/>
<circle cx="29.01" cy="386.80" r="1.2" fill="#7fb0b8"/>
<line x1="31.84" y1="367.60" x2="31.84" y2="386.80" stroke="#c5dde6" stroke-width="0.7"/>
<circle cx="31.84" cy="367.60" r="1.2" fill="#7fb0b8"/>
<circle cx="31.84" cy="386.80" r="1.2" fill="#7fb0b8"/>
<line x1="34.66" y1="367.60" x2="34.66" y2="386.80" stroke="#c5dde6" stroke-width="0.7"/>
<circle cx="34.66" cy="367.60" r="1.2" fill="#7fb0b8"/>
<circle cx="34.66" cy="386.80" r="1.2" fill="#7fb0b8"/>
<line x1="37.49" y1="367.60" x2="37.49" y2="386.80" stroke="#c5dde6" stroke-width="0.7"/>
<circle cx="37.49" cy="367.60" r="1.2" fill="#7fb0b8"/>
<circle cx="37.49" cy="386.80" r="1.2" fill="#7fb0b8"/>
<line x1="69.49" y1="367.60" x2="69.49" y2="386.80" stroke="#c5dde6" stroke-width="0.7"/>
<circle cx="69.49" cy="367.60" r="1.2" fill="#7fb0b8"/>
<circle cx="69.49" cy="386.80" r="1.2" fill="#7fb0b8"/>
<line x1="72.26" y1="367.60" x2="72.26" y2="386.80" stroke="#c5dde6" stroke-width="0.7"/>
<circle cx="72.26" cy="367.60" r="1.2" fill="#7fb0b8"/>
<circle cx="72.26" cy="386.80" r="1.2" fill="#7fb0b8"/>
<line x1="75.04" y1="367.60" x2="75.04" y2="386.80" stroke="#c5dde6" stroke-width="0.7"/>
<circle cx="75.04" cy="367.60" r="1.2" fill="#7fb0b8"/>
<circle cx="75.04" cy="386.80" r="1.2" fill="#7fb0b8"/>
<line x1="77.81" y1="367.60" x2="77.81" y2="386.80" stroke="#c5dde6" stroke-width="0.7"/>
<circle cx="77.81" cy="367.60" r="1.2" fill="#7fb0b8"/>
<circle cx="77.81" cy="386.80" r="1.2" fill="#7fb0b8"/>
<path d="M46.40 355.20 H50.50 V362.50 H56.50 V355.20 H60.60 A7.5 7.5 0 0 1 68.10 362.70 V389.30 A7.5 7.5 0 0 1 60.60 396.80 H46.40 A7.5 7.5 0 0 1 38.90 389.30 V362.70 A7.5 7.5 0 0 1 46.40 355.20 Z" fill="#a2cddf" stroke="#111" stroke-width="0.9" stroke-linejoin="round"/>
<text x="54.40" y="407.80" font-size="9.2" text-anchor="middle" fill="#231f20" textLength="27.50" lengthAdjust="spacingAndGlyphs">GPR50</text>
<path d="M97.40 356.90 H92.70 C89.20 356.90 87.70 359.00 87.70 363.00" fill="none" stroke="#b06f87" stroke-width="1.3" stroke-linecap="round"/>
<rect x="85.40" y="362.70" width="4.60" height="7.60" fill="#b06f87"/>
<circle cx="87.60" cy="371.20" r="1.6" fill="#2b8c86"/>
<path d="M97.40 376.80 H92.70 C89.20 376.80 87.70 378.90 87.70 382.90" fill="none" stroke="#b06f87" stroke-width="1.3" stroke-linecap="round"/>
<rect x="85.40" y="382.80" width="4.60" height="7.10" fill="#b06f87"/>
<text x="100.90" y="366.80" font-size="9.2" fill="#231f20" textLength="17.90" lengthAdjust="spacingAndGlyphs">LL–F</text>
<text x="100.90" y="387.10" font-size="9.2" fill="#231f20" textLength="8.70" lengthAdjust="spacingAndGlyphs">LL</text>
<circle cx="25.50" cy="428.60" r="6.3" fill="#fff" stroke="#111" stroke-width="0.9"/>
<text x="25.50" y="431.70" font-size="9.2" text-anchor="middle" fill="#231f20">1</text>
<circle cx="25.50" cy="457.60" r="6.3" fill="#fff" stroke="#111" stroke-width="0.9"/>
<text x="25.50" y="460.70" font-size="9.2" text-anchor="middle" fill="#231f20">2</text>
<circle cx="25.50" cy="485.00" r="6.3" fill="#fff" stroke="#111" stroke-width="0.9"/>
<text x="25.50" y="488.10" font-size="9.2" text-anchor="middle" fill="#231f20">3</text>
<circle cx="25.50" cy="512.40" r="6.3" fill="#fff" stroke="#111" stroke-width="0.9"/>
<text x="25.50" y="515.50" font-size="9.2" text-anchor="middle" fill="#231f20">4</text>
<text x="37.10" y="431.60" font-size="9.2" fill="#999999" textLength="43.40" lengthAdjust="spacingAndGlyphs">50 + buffer</text>
<text x="37.10" y="459.90" font-size="9.2" fill="#8f96cc" textLength="38.30" lengthAdjust="spacingAndGlyphs">VC + LL–F</text>
<text x="37.10" y="486.60" font-size="9.2" fill="#b06f87" textLength="37.60" lengthAdjust="spacingAndGlyphs">50 + LL–F</text>
<text x="37.10" y="511.70" font-size="9.2" fill="#c8c8c8" textLength="37.60" lengthAdjust="spacingAndGlyphs">50 + LL–F</text>
<text x="37.10" y="522.10" font-size="9.2" fill="#c8c8c8" textLength="15.80" lengthAdjust="spacingAndGlyphs">+ LL</text>
<text x="16.70" y="540.20" font-size="9.2" fill="#231f20" textLength="56.40" lengthAdjust="spacingAndGlyphs">(Competition)</text>
<defs><linearGradient id="fitc" gradientUnits="userSpaceOnUse" x1="90" y1="0" x2="194" y2="0"><stop offset="0.0000" stop-color="#000000"/><stop offset="0.0769" stop-color="#08040c"/><stop offset="0.1346" stop-color="#0e0616"/><stop offset="0.1827" stop-color="#190828"/><stop offset="0.2212" stop-color="#2e0a46"/><stop offset="0.2596" stop-color="#480a64"/><stop offset="0.2981" stop-color="#600a52"/><stop offset="0.3462" stop-color="#850a2a"/><stop offset="0.3942" stop-color="#b00c14"/><stop offset="0.4519" stop-color="#dc1010"/><stop offset="0.5385" stop-color="#e82810"/><stop offset="0.5962" stop-color="#ea4012"/><stop offset="0.6394" stop-color="#f07a1e"/><stop offset="0.6635" stop-color="#f09a22"/><stop offset="0.6779" stop-color="#e2c030"/><stop offset="0.6923" stop-color="#c8d838"/><stop offset="0.7692" stop-color="#d0dc48"/><stop offset="0.8654" stop-color="#dce468"/><stop offset="1.0000" stop-color="#f0f0a0"/></linearGradient>
<linearGradient id="cbar" x1="0" y1="0" x2="1" y2="0"><stop offset="0" stop-color="#000"/><stop offset="0.18" stop-color="#2a0a4a"/><stop offset="0.3" stop-color="#5a0a6a"/><stop offset="0.45" stop-color="#b0103a"/><stop offset="0.58" stop-color="#e83010"/><stop offset="0.7" stop-color="#f08a20"/><stop offset="0.82" stop-color="#f0d838"/><stop offset="0.93" stop-color="#f6f4a0"/><stop offset="1" stop-color="#ffffff"/></linearGradient>
<clipPath id="h2clip"><rect x="85" y="433.3" width="120" height="40"/></clipPath></defs>
<line x1="89.90" y1="460.30" x2="194.00" y2="460.30" stroke="#9a9a9a" stroke-width="0.7"/>
<path d="M89.90 460.30 L98.00 433.30 L101.00 423.00 L109.50 400.80 L110.20 400.96 L110.90 401.46 L111.60 402.27 L112.30 403.38 L113.00 404.78 L113.70 406.45 L114.40 408.36 L115.10 410.47 L115.80 412.77 L116.50 415.21 L117.20 417.76 L117.90 420.39 L118.60 423.06 L119.30 425.75 L120.00 428.42 L120.70 431.04 L121.40 433.60 L122.10 436.07 L122.80 438.43 L123.50 440.67 L124.20 442.78 L124.90 444.75 L125.60 446.58 L126.30 448.25 L127.00 449.78 L127.70 451.17 L128.40 452.42 L129.10 453.53 L129.80 454.52 L130.50 455.39 L131.20 456.16 L131.90 456.82 L132.60 457.39 L133.30 457.89 L134.00 458.31 L134.70 458.66 L135.40 458.96 L136.10 459.21 L136.80 459.42 L137.50 459.60 L138.20 459.74 L138.90 459.85 L139.60 459.95 L140.30 460.02 L141.00 460.08 L141.70 460.13 L142.40 460.17 L143.10 460.20 L143.80 460.22 L144.50 460.24 L145.20 460.26 L145.90 460.27 L146.60 460.28 L147.30 460.28 L148.00 460.29 L148.70 460.29 L149.40 460.29 L150.10 460.29 L150.80 460.30 L151.50 460.30 L152.20 460.30 L152.90 460.30 L153.60 460.30 L154.30 460.30 L155.00 460.30 L155.70 460.30 L156.40 460.30 L157.10 460.30 L157.80 460.30 L158.50 460.30 L159.20 460.30 L159.90 460.30 L160.60 460.30 L161.30 460.30 L162.00 460.30 L162.70 460.30 L163.40 460.30 L164.10 460.30 L164.80 460.30 L165.50 460.30 L166.20 460.30 L166.90 460.30 L167.60 460.30 L168.30 460.30 L169.00 460.30 L169.70 460.30 L170.40 460.30 L171.10 460.30 L171.80 460.30 L172.50 460.30 L173.20 460.30 L173.90 460.30 L174.60 460.30 L175.30 460.30 L176.00 460.30 L176.70 460.30 L177.40 460.30 L178.10 460.30 L178.80 460.30 L179.50 460.30 L180.20 460.30 L180.90 460.30 L181.60 460.30 L182.30 460.30 L183.00 460.30 L183.70 460.30 L184.40 460.30 L185.10 460.30 L185.80 460.30 L186.50 460.30 L187.20 460.30 L187.90 460.30 L188.60 460.30 L189.30 460.30 L190.00 460.30 L190.70 460.30 L191.40 460.30 L192.10 460.30 L192.80 460.30 L194 460.3 Z" fill="url(#fitc)" clip-path="url(#h2clip)"/>
<line x1="89.90" y1="433.30" x2="194.00" y2="433.30" stroke="#9a9a9a" stroke-width="0.7"/>
<path d="M89.90 433.30 L89.90 422.46 L90.40 421.46 L90.89 420.43 L91.39 419.36 L91.88 418.27 L92.38 417.16 L92.87 416.04 L93.37 414.91 L93.87 413.79 L94.36 412.67 L94.86 411.57 L95.35 410.50 L95.85 409.46 L96.34 408.47 L96.84 407.51 L97.34 406.62 L97.83 405.77 L98.33 405.00 L98.82 404.29 L99.32 403.65 L99.81 403.08 L100.31 402.58 L100.81 402.16 L101.30 401.81 L101.80 401.52 L102.29 401.31 L102.79 401.16 L103.28 401.06 L103.78 401.01 L104.28 401.00 L104.77 401.01 L105.27 401.03 L105.76 401.10 L106.26 401.21 L106.75 401.38 L107.25 401.60 L107.75 401.90 L108.24 402.27 L108.74 402.72 L109.23 403.24 L109.73 403.85 L110.22 404.53 L110.72 405.29 L111.22 406.13 L111.71 407.05 L112.21 408.02 L112.70 409.06 L113.20 410.16 L113.69 411.30 L114.19 412.47 L114.69 413.67 L115.18 414.89 L115.68 416.12 L116.17 417.35 L116.67 418.56 L117.16 419.76 L117.66 420.92 L118.16 422.04 L118.65 423.12 L119.15 424.15 L119.64 425.13 L120.14 426.04 L120.63 426.89 L121.13 427.67 L121.63 428.40 L122.12 429.05 L122.62 429.64 L123.11 430.17 L123.61 430.64 L124.10 431.06 L124.60 431.42 L125.10 431.74 L125.59 432.01 L126.09 432.24 L126.58 432.44 L127.08 432.61 L127.57 432.74 L128.07 432.86 L128.57 432.95 L129.06 433.03 L129.56 433.09 L130.05 433.14 L130.55 433.17 L131.04 433.20 L131.54 433.23 L132.04 433.25 L132.53 433.26 L133.03 433.27 L133.52 433.28 L134.02 433.28 L134.51 433.29 L135.01 433.29 L135.51 433.29 L136.00 433.30 L136.50 433.30 L136.99 433.30 L137.49 433.30 L137.98 433.30 L138.48 433.30 L138.98 433.30 L139.47 433.30 L139.97 433.30 L140.46 433.30 L140.96 433.30 L141.45 433.30 L141.95 433.30 L142.45 433.30 L142.94 433.30 L143.44 433.30 L143.93 433.30 L144.43 433.30 L144.92 433.30 L145.42 433.30 L145.92 433.30 L146.41 433.30 L146.91 433.30 L147.40 433.30 L147.90 433.30 L148.39 433.30 L148.89 433.30 L149.39 433.30 L149.88 433.30 L150.38 433.30 L150.87 433.30 L151.37 433.30 L151.86 433.30 L152.36 433.30 L152.86 433.30 L153.35 433.30 L153.85 433.30 L154.34 433.30 L154.84 433.30 L155.33 433.30 L155.83 433.30 L156.33 433.30 L156.82 433.30 L157.32 433.30 L157.81 433.30 L158.31 433.30 L158.80 433.30 L159.30 433.30 L159.80 433.30 L160.29 433.30 L160.79 433.30 L161.28 433.30 L161.78 433.30 L162.27 433.30 L162.77 433.30 L163.27 433.30 L163.76 433.30 L164.26 433.30 L164.75 433.30 L165.25 433.30 L165.74 433.30 L166.24 433.30 L166.74 433.30 L167.23 433.30 L167.73 433.30 L168.22 433.30 L168.72 433.30 L169.21 433.30 L169.71 433.30 L170.21 433.30 L170.70 433.30 L171.20 433.30 L171.69 433.30 L172.19 433.30 L172.68 433.30 L173.18 433.30 L173.68 433.30 L174.17 433.30 L174.67 433.30 L175.16 433.30 L175.66 433.30 L176.15 433.30 L176.65 433.30 L177.15 433.30 L177.64 433.30 L178.14 433.30 L178.63 433.30 L179.13 433.30 L179.62 433.30 L180.12 433.30 L180.62 433.30 L181.11 433.30 L181.61 433.30 L182.10 433.30 L182.60 433.30 L183.09 433.30 L183.59 433.30 L184.09 433.30 L184.58 433.30 L185.08 433.30 L185.57 433.30 L186.07 433.30 L186.56 433.30 L187.06 433.30 L187.56 433.30 L188.05 433.30 L188.55 433.30 L189.04 433.30 L189.54 433.30 L190.03 433.30 L190.53 433.30 L191.03 433.30 L191.52 433.30 L192.02 433.30 L192.51 433.30 L193.01 433.30 L193.50 433.30 L194.00 433.30 L194.00 433.30 Z" fill="url(#fitc)"/>
<line x1="89.90" y1="488.40" x2="194.00" y2="488.40" stroke="#9a9a9a" stroke-width="0.7"/>
<path d="M89.90 488.40 L89.90 488.40 L90.40 488.40 L90.89 488.40 L91.39 488.40 L91.88 488.40 L92.38 488.40 L92.87 488.40 L93.37 488.40 L93.87 488.40 L94.36 488.40 L94.86 488.40 L95.35 488.40 L95.85 488.40 L96.34 488.40 L96.84 488.40 L97.34 488.40 L97.83 488.40 L98.33 488.40 L98.82 488.40 L99.32 488.40 L99.81 488.40 L100.31 488.40 L100.81 488.40 L101.30 488.39 L101.80 488.39 L102.29 488.39 L102.79 488.39 L103.28 488.39 L103.78 488.39 L104.28 488.38 L104.77 488.38 L105.27 488.38 L105.76 488.37 L106.26 488.37 L106.75 488.36 L107.25 488.36 L107.75 488.35 L108.24 488.34 L108.74 488.33 L109.23 488.32 L109.73 488.31 L110.22 488.29 L110.72 488.28 L111.22 488.26 L111.71 488.24 L112.21 488.21 L112.70 488.18 L113.20 488.15 L113.69 488.12 L114.19 488.08 L114.69 488.03 L115.18 487.98 L115.68 487.92 L116.17 487.86 L116.67 487.79 L117.16 487.71 L117.66 487.63 L118.16 487.53 L118.65 487.43 L119.15 487.31 L119.64 487.18 L120.14 487.04 L120.63 486.89 L121.13 486.72 L121.63 486.53 L122.12 486.33 L122.62 486.11 L123.11 485.88 L123.61 485.62 L124.10 485.34 L124.60 485.05 L125.10 484.73 L125.59 484.38 L126.09 484.02 L126.58 483.62 L127.08 483.21 L127.57 482.76 L128.07 482.29 L128.57 481.79 L129.06 481.27 L129.56 480.71 L130.05 480.13 L130.55 479.52 L131.04 478.89 L131.54 478.22 L132.04 477.53 L132.53 476.82 L133.03 476.07 L133.52 475.31 L134.02 474.52 L134.51 473.72 L135.01 472.89 L135.51 472.05 L136.00 471.20 L136.50 470.33 L136.99 469.45 L137.49 468.57 L137.98 467.68 L138.48 466.80 L138.98 465.92 L139.47 465.04 L139.97 464.17 L140.46 463.32 L140.96 462.49 L141.45 461.67 L141.95 460.88 L142.45 460.12 L142.94 459.39 L143.44 458.70 L143.93 458.05 L144.43 457.44 L144.92 456.87 L145.42 456.35 L145.92 455.88 L146.41 455.47 L146.91 455.11 L147.40 454.81 L147.90 454.57 L148.39 454.38 L148.89 454.26 L149.39 454.21 L149.88 454.21 L150.38 454.26 L150.87 454.37 L151.37 454.52 L151.86 454.73 L152.36 454.99 L152.86 455.29 L153.35 455.64 L153.85 456.03 L154.34 456.47 L154.84 456.95 L155.33 457.47 L155.83 458.02 L156.33 458.61 L156.82 459.23 L157.32 459.88 L157.81 460.56 L158.31 461.27 L158.80 461.99 L159.30 462.74 L159.80 463.50 L160.29 464.27 L160.79 465.06 L161.28 465.85 L161.78 466.65 L162.27 467.45 L162.77 468.26 L163.27 469.06 L163.76 469.85 L164.26 470.65 L164.75 471.43 L165.25 472.20 L165.74 472.96 L166.24 473.71 L166.74 474.44 L167.23 475.16 L167.73 475.85 L168.22 476.53 L168.72 477.19 L169.21 477.83 L169.71 478.45 L170.21 479.04 L170.70 479.61 L171.20 480.16 L171.69 480.69 L172.19 481.19 L172.68 481.67 L173.18 482.13 L173.68 482.57 L174.17 482.98 L174.67 483.37 L175.16 483.74 L175.66 484.09 L176.15 484.42 L176.65 484.73 L177.15 485.02 L177.64 485.30 L178.14 485.55 L178.63 485.79 L179.13 486.01 L179.62 486.22 L180.12 486.41 L180.62 486.58 L181.11 486.75 L181.61 486.90 L182.10 487.04 L182.60 487.17 L183.09 487.29 L183.59 487.39 L184.09 487.49 L184.58 487.58 L185.08 487.67 L185.57 487.74 L186.07 487.81 L186.56 487.87 L187.06 487.93 L187.56 487.98 L188.05 488.02 L188.55 488.07 L189.04 488.10 L189.54 488.14 L190.03 488.17 L190.53 488.19 L191.03 488.22 L191.52 488.24 L192.02 488.26 L192.51 488.28 L193.01 488.29 L193.50 488.30 L194.00 488.32 L194.00 488.40 Z" fill="url(#fitc)"/>
<line x1="89.90" y1="516.40" x2="194.00" y2="516.40" stroke="#9a9a9a" stroke-width="0.7"/>
<path d="M89.90 516.40 L89.90 514.91 L90.40 514.72 L90.89 514.53 L91.39 514.31 L91.88 514.07 L92.38 513.81 L92.87 513.53 L93.37 513.22 L93.87 512.89 L94.36 512.53 L94.86 512.14 L95.35 511.73 L95.85 511.29 L96.34 510.82 L96.84 510.32 L97.34 509.78 L97.83 509.22 L98.33 508.63 L98.82 508.00 L99.32 507.35 L99.81 506.66 L100.31 505.95 L100.81 505.21 L101.30 504.44 L101.80 503.64 L102.29 502.83 L102.79 501.99 L103.28 501.14 L103.78 500.27 L104.28 499.38 L104.77 498.49 L105.27 497.60 L105.76 496.70 L106.26 495.80 L106.75 494.91 L107.25 494.03 L107.75 493.16 L108.24 492.32 L108.74 491.49 L109.23 490.70 L109.73 489.94 L110.22 489.21 L110.72 488.53 L111.22 487.89 L111.71 487.30 L112.21 486.77 L112.70 486.29 L113.20 485.87 L113.69 485.51 L114.19 485.21 L114.69 484.98 L115.18 484.82 L115.68 484.73 L116.17 484.70 L116.67 484.73 L117.16 484.80 L117.66 484.92 L118.16 485.08 L118.65 485.29 L119.15 485.53 L119.64 485.82 L120.14 486.15 L120.63 486.52 L121.13 486.92 L121.63 487.36 L122.12 487.83 L122.62 488.34 L123.11 488.87 L123.61 489.44 L124.10 490.02 L124.60 490.64 L125.10 491.27 L125.59 491.92 L126.09 492.59 L126.58 493.27 L127.08 493.97 L127.57 494.67 L128.07 495.39 L128.57 496.10 L129.06 496.83 L129.56 497.55 L130.05 498.27 L130.55 498.99 L131.04 499.70 L131.54 500.41 L132.04 501.10 L132.53 501.79 L133.03 502.47 L133.52 503.13 L134.02 503.78 L134.51 504.42 L135.01 505.04 L135.51 505.64 L136.00 506.23 L136.50 506.79 L136.99 507.34 L137.49 507.87 L137.98 508.38 L138.48 508.87 L138.98 509.34 L139.47 509.79 L139.97 510.22 L140.46 510.63 L140.96 511.02 L141.45 511.39 L141.95 511.74 L142.45 512.07 L142.94 512.39 L143.44 512.69 L143.93 512.97 L144.43 513.23 L144.92 513.48 L145.42 513.71 L145.92 513.93 L146.41 514.13 L146.91 514.32 L147.40 514.50 L147.90 514.66 L148.39 514.81 L148.89 514.95 L149.39 515.08 L149.88 515.20 L150.38 515.31 L150.87 515.41 L151.37 515.51 L151.86 515.59 L152.36 515.67 L152.86 515.74 L153.35 515.81 L153.85 515.87 L154.34 515.92 L154.84 515.97 L155.33 516.02 L155.83 516.06 L156.33 516.09 L156.82 516.13 L157.32 516.16 L157.81 516.18 L158.31 516.21 L158.80 516.23 L159.30 516.25 L159.80 516.27 L160.29 516.28 L160.79 516.30 L161.28 516.31 L161.78 516.32 L162.27 516.33 L162.77 516.34 L163.27 516.35 L163.76 516.35 L164.26 516.36 L164.75 516.36 L165.25 516.37 L165.74 516.37 L166.24 516.38 L166.74 516.38 L167.23 516.38 L167.73 516.38 L168.22 516.39 L168.72 516.39 L169.21 516.39 L169.71 516.39 L170.21 516.39 L170.70 516.39 L171.20 516.39 L171.69 516.40 L172.19 516.40 L172.68 516.40 L173.18 516.40 L173.68 516.40 L174.17 516.40 L174.67 516.40 L175.16 516.40 L175.66 516.40 L176.15 516.40 L176.65 516.40 L177.15 516.40 L177.64 516.40 L178.14 516.40 L178.63 516.40 L179.13 516.40 L179.62 516.40 L180.12 516.40 L180.62 516.40 L181.11 516.40 L181.61 516.40 L182.10 516.40 L182.60 516.40 L183.09 516.40 L183.59 516.40 L184.09 516.40 L184.58 516.40 L185.08 516.40 L185.57 516.40 L186.07 516.40 L186.56 516.40 L187.06 516.40 L187.56 516.40 L188.05 516.40 L188.55 516.40 L189.04 516.40 L189.54 516.40 L190.03 516.40 L190.53 516.40 L191.03 516.40 L191.52 516.40 L192.02 516.40 L192.51 516.40 L193.01 516.40 L193.50 516.40 L194.00 516.40 L194.00 516.40 Z" fill="url(#fitc)"/>
<line x1="90.80" y1="516.40" x2="90.80" y2="518.60" stroke="#777" stroke-width="0.7"/>
<text x="85.80" y="531.30" font-size="7.6" fill="#231f20">10<tspan dy="-3.2" font-size="5">1</tspan></text>
<line x1="122.70" y1="516.40" x2="122.70" y2="518.60" stroke="#777" stroke-width="0.7"/>
<text x="117.70" y="531.30" font-size="7.6" fill="#231f20">10<tspan dy="-3.2" font-size="5">2</tspan></text>
<line x1="154.60" y1="516.40" x2="154.60" y2="518.60" stroke="#777" stroke-width="0.7"/>
<text x="149.60" y="531.30" font-size="7.6" fill="#231f20">10<tspan dy="-3.2" font-size="5">3</tspan></text>
<line x1="187.60" y1="516.40" x2="187.60" y2="518.60" stroke="#777" stroke-width="0.7"/>
<text x="182.60" y="531.30" font-size="7.6" fill="#231f20">10<tspan dy="-3.2" font-size="5">4</tspan></text>
<text x="142.00" y="546.00" font-size="9.2" text-anchor="middle" fill="#231f20" textLength="26.50" lengthAdjust="spacingAndGlyphs">FITC-A</text>
<text x="148.80" y="403.30" font-size="9.2" fill="#231f20" textLength="52.80" lengthAdjust="spacingAndGlyphs">log<tspan dy="1.6" font-size="5.2">10</tspan><tspan dy="-1.6"> (FITC-A)</tspan></text>
<rect x="157.9" y="409" width="34.6" height="4.8" fill="url(#cbar)" stroke="#111" stroke-width="0.6"/>
<text x="154.10" y="414.20" font-size="7.6" text-anchor="middle" fill="#231f20">1</text>
<text x="196.90" y="414.20" font-size="7.6" text-anchor="middle" fill="#231f20">4</text>
<line x1="249.30" y1="381.50" x2="249.30" y2="518.00" stroke="#3c3c3c" stroke-width="0.67"/>
<line x1="246.90" y1="517.80" x2="335.80" y2="517.80" stroke="#3c3c3c" stroke-width="0.67"/>
<line x1="246.40" y1="403.60" x2="249.30" y2="403.60" stroke="#3c3c3c" stroke-width="0.67"/>
<text x="241.90" y="406.30" font-size="7.6" text-anchor="end" fill="#231f20" textLength="13.19" lengthAdjust="spacingAndGlyphs">100</text>
<line x1="246.40" y1="460.60" x2="249.30" y2="460.60" stroke="#3c3c3c" stroke-width="0.67"/>
<text x="241.90" y="463.30" font-size="7.6" text-anchor="end" fill="#231f20" textLength="8.79" lengthAdjust="spacingAndGlyphs">50</text>
<line x1="246.40" y1="517.40" x2="249.30" y2="517.40" stroke="#3c3c3c" stroke-width="0.67"/>
<text x="241.90" y="520.10" font-size="7.6" text-anchor="end" fill="#231f20" textLength="4.40" lengthAdjust="spacingAndGlyphs">0</text>
<text x="219.70" y="450.00" font-size="9.2" text-anchor="middle" fill="#231f20" textLength="51.00" lengthAdjust="spacingAndGlyphs" transform="rotate(-90 219.70 450.00)">MFI (binding)</text>
<rect x="252.40" y="493.30" width="15.30" height="24.10" fill="#9c9c9c"/>
<rect x="274.10" y="460.60" width="15.10" height="56.80" fill="#9aa1c9"/>
<rect x="296.00" y="400.10" width="14.90" height="117.30" fill="#b06f87"/>
<rect x="317.40" y="460.60" width="15.30" height="56.80" fill="#d2d2d2"/>
<circle cx="260.00" cy="493.60" r="2.8" fill="#fff" fill-opacity="0.55" stroke="#111" stroke-width="0.75"/>
<line x1="258.80" y1="493.60" x2="261.20" y2="493.60" stroke="#333" stroke-width="0.7"/>
<circle cx="260.00" cy="492.60" r="2.8" fill="#fff" fill-opacity="0.55" stroke="#111" stroke-width="0.75"/>
<line x1="258.80" y1="492.60" x2="261.20" y2="492.60" stroke="#333" stroke-width="0.7"/>
<circle cx="281.60" cy="460.20" r="2.8" fill="#fff" fill-opacity="0.55" stroke="#111" stroke-width="0.75"/>
<line x1="280.40" y1="460.20" x2="282.80" y2="460.20" stroke="#333" stroke-width="0.7"/>
<circle cx="281.60" cy="458.40" r="2.8" fill="#fff" fill-opacity="0.55" stroke="#111" stroke-width="0.75"/>
<line x1="280.40" y1="458.40" x2="282.80" y2="458.40" stroke="#333" stroke-width="0.7"/>
<circle cx="281.60" cy="461.40" r="2.8" fill="#fff" fill-opacity="0.55" stroke="#111" stroke-width="0.75"/>
<line x1="280.40" y1="461.40" x2="282.80" y2="461.40" stroke="#333" stroke-width="0.7"/>
<circle cx="303.40" cy="400.60" r="2.8" fill="#fff" fill-opacity="0.55" stroke="#111" stroke-width="0.75"/>
<line x1="302.20" y1="400.60" x2="304.60" y2="400.60" stroke="#333" stroke-width="0.7"/>
<circle cx="303.40" cy="397.60" r="2.8" fill="#fff" fill-opacity="0.55" stroke="#111" stroke-width="0.75"/>
<line x1="302.20" y1="397.60" x2="304.60" y2="397.60" stroke="#333" stroke-width="0.7"/>
<circle cx="303.40" cy="399.40" r="2.8" fill="#fff" fill-opacity="0.55" stroke="#111" stroke-width="0.75"/>
<line x1="302.20" y1="399.40" x2="304.60" y2="399.40" stroke="#333" stroke-width="0.7"/>
<circle cx="325.00" cy="460.50" r="2.8" fill="#fff" fill-opacity="0.55" stroke="#111" stroke-width="0.75"/>
<line x1="323.80" y1="460.50" x2="326.20" y2="460.50" stroke="#333" stroke-width="0.7"/>
<path d="M259.20 374.70 V370.20 H302.60 V374.70" fill="none" stroke="#333" stroke-width="0.6"/>
<text x="281.10" y="370.40" font-size="8.5" text-anchor="middle" fill="#231f20" textLength="13.00" lengthAdjust="spacingAndGlyphs">***</text>
<path d="M279.10 388.80 V384.60 H301.60 V388.80" fill="none" stroke="#333" stroke-width="0.6"/>
<text x="289.90" y="384.80" font-size="8.5" text-anchor="middle" fill="#231f20" textLength="13.00" lengthAdjust="spacingAndGlyphs">***</text>
<path d="M305.30 388.80 V384.60 H328.40 V388.80" fill="none" stroke="#333" stroke-width="0.6"/>
<text x="316.50" y="384.80" font-size="8.5" text-anchor="middle" fill="#231f20" textLength="13.00" lengthAdjust="spacingAndGlyphs">***</text>
<circle cx="258.50" cy="531.30" r="6.5" fill="#fff" stroke="#111" stroke-width="0.9"/>
<text x="258.50" y="534.40" font-size="9.2" text-anchor="middle" fill="#231f20">1</text>
<circle cx="281.00" cy="531.30" r="6.5" fill="#fff" stroke="#111" stroke-width="0.9"/>
<text x="281.00" y="534.40" font-size="9.2" text-anchor="middle" fill="#231f20">2</text>
<circle cx="303.70" cy="531.30" r="6.5" fill="#fff" stroke="#111" stroke-width="0.9"/>
<text x="303.70" y="534.40" font-size="9.2" text-anchor="middle" fill="#231f20">3</text>
<circle cx="326.40" cy="531.30" r="6.5" fill="#fff" stroke="#111" stroke-width="0.9"/>
<text x="326.40" y="534.40" font-size="9.2" text-anchor="middle" fill="#231f20">4</text>
</g>
<g id="panel-g">
<text x="375.80" y="352.40" font-size="12.2" fill="#000" font-weight="bold" stroke="#000" stroke-width="0.55" stroke-linejoin="round">g</text>
<defs><linearGradient id="rg" x1="0" y1="0" x2="0" y2="1"><stop offset="0" stop-color="#a4d2e3"/><stop offset="0.45" stop-color="#b4dae8"/><stop offset="1" stop-color="#ffffff"/></linearGradient><linearGradient id="rl" x1="0" y1="0" x2="0" y2="1"><stop offset="0" stop-color="#a9b2da"/><stop offset="0.45" stop-color="#bcc4e3"/><stop offset="1" stop-color="#ffffff"/></linearGradient><linearGradient id="fade" x1="0" y1="0" x2="0" y2="1"><stop offset="0" stop-color="#111"/><stop offset="0.55" stop-color="#111"/><stop offset="1" stop-color="#111" stop-opacity="0"/></linearGradient></defs>
<text x="402.60" y="357.10" font-size="9.2" fill="#231f20" textLength="17.50" lengthAdjust="spacingAndGlyphs">LL–F</text>
<text x="423.00" y="366.50" font-size="9.2" fill="#231f20" textLength="19.90" lengthAdjust="spacingAndGlyphs">BRET</text>
<text x="376.20" y="386.30" font-size="9.2" fill="#231f20" textLength="33.20" lengthAdjust="spacingAndGlyphs">Nanoluc</text>
<text x="449.90" y="383.90" font-size="9.2" fill="#231f20" textLength="18.10" lengthAdjust="spacingAndGlyphs">LL–F</text>
<circle cx="406.30" cy="369.30" r="1.7" fill="#8a88c9"/>
<circle cx="411.90" cy="369.30" r="1.7" fill="#8a88c9"/>
<circle cx="409.30" cy="373.10" r="1.7" fill="#8a88c9"/>
<circle cx="406.29" cy="395.90" r="1.2" fill="#bfdde4"/>
<circle cx="409.06" cy="395.90" r="1.2" fill="#bfdde4"/>
<circle cx="411.84" cy="395.90" r="1.2" fill="#bfdde4"/>
<circle cx="414.61" cy="395.90" r="1.2" fill="#bfdde4"/>
<circle cx="446.77" cy="395.90" r="1.2" fill="#bfdde4"/>
<circle cx="449.32" cy="395.90" r="1.2" fill="#bfdde4"/>
<circle cx="451.88" cy="395.90" r="1.2" fill="#bfdde4"/>
<circle cx="454.43" cy="395.90" r="1.2" fill="#bfdde4"/>
<path d="M416.00 399.70 V390.20 A5.5 5.5 0 0 1 421.50 384.70 H428.10 L428.10 391.30 H433.00 L433.00 384.70 H440.00 A5.5 5.5 0 0 1 445.50 390.20 V399.70 Z" fill="url(#rg)"/>
<path d="M416.00 399.70 V390.20 A5.5 5.5 0 0 1 421.50 384.70 H428.10 L428.10 391.30 H433.00 L433.00 384.70 H440.00 A5.5 5.5 0 0 1 445.50 390.20 V399.70" fill="none" stroke="url(#fade)" stroke-width="1.0" stroke-linejoin="round"/>
<rect x="428.40" y="384.20" width="4.30" height="6.80" fill="#b06f87"/>
<circle cx="430.50" cy="390.20" r="1.0" fill="#2b8c86"/>
<path d="M430.30 385.00 C430.30 379.10 431.80 377.10 435.30 377.10 H442.30" fill="none" stroke="#b06f87" stroke-width="1.7" stroke-linecap="round"/>
<path d="M418.60 377.20 C422.60 377.70 425.60 380.20 425.60 384.60" fill="none" stroke="#3b3a8c" stroke-width="1.7"/>
<polygon points="415.71,372.36 417.19,374.68 419.93,374.42 418.18,376.55 419.28,379.08 416.71,378.07 414.65,379.90 414.81,377.15 412.44,375.74 415.11,375.05" fill="#3b3a8c"/>
<path d="M421.30 372.20 Q428.90 365.55 437.10 373.90" fill="none" stroke="#2c3a5c" stroke-width="0.6"/>
<polygon points="437.60,374.80 434.90,373.50 437.30,371.90" fill="#2c3a5c"/>
<path d="M443.80 374.00 C445.20 376.20 447.70 376.40 449.20 375.80 M444.60 372.80 L447.40 374.40 M445.80 371.20 L447.80 373.00 M443.60 374.20 L446.00 371.00" fill="none" stroke="#3fae8c" stroke-width="1.15" stroke-linecap="round"/>
<text x="467.00" y="357.10" font-size="9.2" fill="#231f20" textLength="35.00" lengthAdjust="spacingAndGlyphs">LL–F + LL</text>
<circle cx="467.26" cy="394.70" r="1.2" fill="#bfdde4"/>
<circle cx="470.19" cy="394.70" r="1.2" fill="#bfdde4"/>
<circle cx="473.11" cy="394.70" r="1.2" fill="#bfdde4"/>
<circle cx="476.04" cy="394.70" r="1.2" fill="#bfdde4"/>
<circle cx="507.43" cy="394.70" r="1.2" fill="#bfdde4"/>
<circle cx="510.08" cy="394.70" r="1.2" fill="#bfdde4"/>
<circle cx="512.73" cy="394.70" r="1.2" fill="#bfdde4"/>
<circle cx="515.38" cy="394.70" r="1.2" fill="#bfdde4"/>
<path d="M477.50 398.50 V389.00 A5.5 5.5 0 0 1 483.00 383.50 H488.60 L488.60 389.90 H494.50 L494.50 383.50 H500.60 A5.5 5.5 0 0 1 506.10 389.00 V398.50 Z" fill="url(#rg)"/>
<path d="M477.50 398.50 V389.00 A5.5 5.5 0 0 1 483.00 383.50 H488.60 L488.60 389.90 H494.50 L494.50 383.50 H500.60 A5.5 5.5 0 0 1 506.10 389.00 V398.50" fill="none" stroke="url(#fade)" stroke-width="1.0" stroke-linejoin="round"/>
<rect x="488.90" y="382.70" width="5.30" height="7.00" fill="#b06f87"/>
<path d="M491.40 383.00 C491.40 376.80 492.90 374.80 496.40 374.80 H503.20" fill="none" stroke="#b06f87" stroke-width="1.7" stroke-linecap="round"/>
<path d="M481.40 375.60 C485.40 376.10 488.00 378.60 488.00 383.40" fill="none" stroke="#3b3a8c" stroke-width="1.7"/>
<polygon points="478.61,370.86 480.09,373.18 482.83,372.92 481.08,375.05 482.18,377.58 479.61,376.57 477.55,378.40 477.71,375.65 475.34,374.24 478.01,373.55" fill="#3b3a8c"/>
<g transform="rotate(28 512 377.6)"><rect x="509.3" y="373" width="5.4" height="9.2" fill="#b06f87"/></g>
<circle cx="510.00" cy="380.70" r="1.9" fill="#2b8c86"/>
<path d="M513.4 373.6 C514.5 370.5 516.5 368.6 519 368.7 C521.5 368.8 524 370.6 526 371.3" fill="none" stroke="#b06f87" stroke-width="1.65" stroke-linecap="round"/>
<text x="417.60" y="415.70" font-size="9.2" fill="#231f20" textLength="85.70" lengthAdjust="spacingAndGlyphs">EC<tspan dy="2.6" font-size="6.6">50</tspan><tspan dy="-2.6"> = 6.38 ± 4.47 nM</tspan></text>
<text x="571.30" y="357.10" font-size="9.2" fill="#231f20" textLength="27.40" lengthAdjust="spacingAndGlyphs">GPR50</text>
<text x="628.40" y="357.10" font-size="9.2" fill="#231f20" textLength="28.00" lengthAdjust="spacingAndGlyphs">GPR171</text>
<circle cx="557.14" cy="394.50" r="1.2" fill="#bfdde4"/>
<circle cx="559.62" cy="394.50" r="1.2" fill="#bfdde4"/>
<circle cx="562.10" cy="394.50" r="1.2" fill="#bfdde4"/>
<circle cx="564.58" cy="394.50" r="1.2" fill="#bfdde4"/>
<circle cx="567.06" cy="394.50" r="1.2" fill="#bfdde4"/>
<circle cx="602.04" cy="394.50" r="1.2" fill="#bfdde4"/>
<circle cx="604.91" cy="394.50" r="1.2" fill="#bfdde4"/>
<circle cx="607.79" cy="394.50" r="1.2" fill="#bfdde4"/>
<circle cx="610.66" cy="394.50" r="1.2" fill="#bfdde4"/>
<path d="M568.30 397.90 V388.40 A5.5 5.5 0 0 1 573.80 382.90 H581.10 L581.10 389.80 H587.00 L587.00 382.90 H595.10 A5.5 5.5 0 0 1 600.60 388.40 V397.90 Z" fill="url(#rg)"/>
<path d="M568.30 397.90 V388.40 A5.5 5.5 0 0 1 573.80 382.90 H581.10 L581.10 389.80 H587.00 L587.00 382.90 H595.10 A5.5 5.5 0 0 1 600.60 388.40 V397.90" fill="none" stroke="url(#fade)" stroke-width="1.0" stroke-linejoin="round"/>
<rect x="581.40" y="382.40" width="5.30" height="6.20" fill="#b06f87"/>
<circle cx="584.00" cy="388.30" r="0.9" fill="#2b8c86"/>
<path d="M584.00 383.00 C584.00 377.00 585.50 375.00 589.00 375.00 H596.70" fill="none" stroke="#b06f87" stroke-width="1.7" stroke-linecap="round"/>
<path d="M570.80 376.00 C574.80 376.50 579.20 379.00 579.20 383.00" fill="none" stroke="#3b3a8c" stroke-width="1.7"/>
<polygon points="568.01,371.06 569.49,373.38 572.23,373.12 570.48,375.25 571.58,377.78 569.01,376.77 566.95,378.60 567.11,375.85 564.74,374.44 567.41,373.75" fill="#3b3a8c"/>
<path d="M574.60 371.50 Q582.50 364.05 590.40 372.80" fill="none" stroke="#2c3a5c" stroke-width="0.6"/>
<polygon points="590.90,373.70 588.20,372.40 590.60,370.80" fill="#2c3a5c"/>
<path d="M599.60 373.20 C601.00 375.40 603.50 375.60 605.00 375.00 M600.40 372.00 L603.20 373.60 M601.60 370.40 L603.60 372.20 M599.40 373.40 L601.80 370.20" fill="none" stroke="#3fae8c" stroke-width="1.15" stroke-linecap="round"/>
<circle cx="619.18" cy="394.70" r="1.2" fill="#bfdde4"/>
<circle cx="621.54" cy="394.70" r="1.2" fill="#bfdde4"/>
<circle cx="623.90" cy="394.70" r="1.2" fill="#bfdde4"/>
<circle cx="626.26" cy="394.70" r="1.2" fill="#bfdde4"/>
<circle cx="628.62" cy="394.70" r="1.2" fill="#bfdde4"/>
<circle cx="663.01" cy="394.70" r="1.2" fill="#bfdde4"/>
<circle cx="665.64" cy="394.70" r="1.2" fill="#bfdde4"/>
<circle cx="668.26" cy="394.70" r="1.2" fill="#bfdde4"/>
<circle cx="670.89" cy="394.70" r="1.2" fill="#bfdde4"/>
<path d="M629.80 398.70 V389.20 A5.5 5.5 0 0 1 635.30 383.70 H642.60 L644.20 390.20 H647.50 L649.10 383.70 H656.20 A5.5 5.5 0 0 1 661.70 389.20 V398.70 Z" fill="url(#rl)"/>
<path d="M629.80 398.70 V389.20 A5.5 5.5 0 0 1 635.30 383.70 H642.60 L644.20 390.20 H647.50 L649.10 383.70 H656.20 A5.5 5.5 0 0 1 661.70 389.20 V398.70" fill="none" stroke="url(#fade)" stroke-width="1.0" stroke-linejoin="round"/>
<path d="M633.30 376.90 C637.30 377.40 640.70 379.90 640.70 383.80" fill="none" stroke="#3b3a8c" stroke-width="1.7"/>
<polygon points="630.51,372.06 631.99,374.38 634.73,374.12 632.98,376.25 634.08,378.78 631.51,377.77 629.45,379.60 629.61,376.85 627.24,375.44 629.91,374.75" fill="#3b3a8c"/>
<g transform="rotate(25 653.9 375.6)"><rect x="651.3" y="371.2" width="5.2" height="8.8" fill="#b06f87"/></g>
<circle cx="652.50" cy="379.40" r="1.8" fill="#2b8c86"/>
<path d="M655.6 371.6 C656.8 368.6 659.5 366.4 662.3 366.5 C665 366.6 668 368.2 670.2 368.9" fill="none" stroke="#b06f87" stroke-width="1.65" stroke-linecap="round"/>
<text x="570.70" y="415.90" font-size="9.2" fill="#231f20" textLength="76.90" lengthAdjust="spacingAndGlyphs">EC<tspan dy="2.6" font-size="6.6">50</tspan><tspan dy="-2.6"> = 7.12 ± 1.9 nM</tspan></text>
<line x1="410.50" y1="421.40" x2="410.50" y2="514.30" stroke="#3c3c3c" stroke-width="0.67"/>
<line x1="410.20" y1="514.00" x2="516.00" y2="514.00" stroke="#3c3c3c" stroke-width="0.67"/>
<line x1="407.00" y1="421.30" x2="410.50" y2="421.30" stroke="#3c3c3c" stroke-width="0.67"/>
<text x="403.00" y="424.00" font-size="7.6" text-anchor="end" fill="#231f20" textLength="4.40" lengthAdjust="spacingAndGlyphs">6</text>
<line x1="407.00" y1="456.30" x2="410.50" y2="456.30" stroke="#3c3c3c" stroke-width="0.67"/>
<text x="403.00" y="459.00" font-size="7.6" text-anchor="end" fill="#231f20" textLength="4.40" lengthAdjust="spacingAndGlyphs">3</text>
<line x1="407.00" y1="490.60" x2="410.50" y2="490.60" stroke="#3c3c3c" stroke-width="0.67"/>
<text x="403.00" y="493.30" font-size="7.6" text-anchor="end" fill="#231f20" textLength="4.40" lengthAdjust="spacingAndGlyphs">0</text>
<line x1="410.60" y1="514.00" x2="410.60" y2="517.20" stroke="#3c3c3c" stroke-width="0.67"/>
<text x="410.60" y="527.30" font-size="7.6" text-anchor="middle" fill="#231f20" textLength="4.40" lengthAdjust="spacingAndGlyphs">0</text>
<line x1="458.10" y1="514.00" x2="458.10" y2="517.20" stroke="#3c3c3c" stroke-width="0.67"/>
<text x="458.10" y="527.30" font-size="7.6" text-anchor="middle" fill="#231f20" textLength="8.79" lengthAdjust="spacingAndGlyphs">50</text>
<line x1="506.00" y1="514.00" x2="506.00" y2="517.20" stroke="#3c3c3c" stroke-width="0.67"/>
<text x="506.00" y="527.30" font-size="7.6" text-anchor="middle" fill="#231f20" textLength="13.19" lengthAdjust="spacingAndGlyphs">100</text>
<text x="430.60" y="542.50" font-size="9.2" fill="#231f20" textLength="65.80" lengthAdjust="spacingAndGlyphs">L-LEN–FITC (nM)</text>
<text x="389.30" y="468.00" font-size="9.2" text-anchor="middle" fill="#231f20" textLength="94.00" lengthAdjust="spacingAndGlyphs" transform="rotate(-90 389.30 468.00)">Relative nBRET ratio (%)</text>
<line x1="410.10" y1="488.10" x2="410.10" y2="493.10" stroke="#67649f" stroke-width="0.5"/>
<line x1="408.80" y1="488.10" x2="411.40" y2="488.10" stroke="#67649f" stroke-width="0.5"/>
<line x1="408.80" y1="493.10" x2="411.40" y2="493.10" stroke="#67649f" stroke-width="0.5"/>
<line x1="414.30" y1="498.90" x2="414.30" y2="503.90" stroke="#67649f" stroke-width="0.5"/>
<line x1="413.00" y1="498.90" x2="415.60" y2="498.90" stroke="#67649f" stroke-width="0.5"/>
<line x1="413.00" y1="503.90" x2="415.60" y2="503.90" stroke="#67649f" stroke-width="0.5"/>
<line x1="418.10" y1="487.10" x2="418.10" y2="503.10" stroke="#67649f" stroke-width="0.5"/>
<line x1="416.80" y1="487.10" x2="419.40" y2="487.10" stroke="#67649f" stroke-width="0.5"/>
<line x1="416.80" y1="503.10" x2="419.40" y2="503.10" stroke="#67649f" stroke-width="0.5"/>
<line x1="420.10" y1="479.90" x2="420.10" y2="491.90" stroke="#67649f" stroke-width="0.5"/>
<line x1="418.80" y1="479.90" x2="421.40" y2="479.90" stroke="#67649f" stroke-width="0.5"/>
<line x1="418.80" y1="491.90" x2="421.40" y2="491.90" stroke="#67649f" stroke-width="0.5"/>
<line x1="429.60" y1="476.60" x2="429.60" y2="493.60" stroke="#67649f" stroke-width="0.5"/>
<line x1="428.30" y1="476.60" x2="430.90" y2="476.60" stroke="#67649f" stroke-width="0.5"/>
<line x1="428.30" y1="493.60" x2="430.90" y2="493.60" stroke="#67649f" stroke-width="0.5"/>
<line x1="458.10" y1="462.80" x2="458.10" y2="475.80" stroke="#67649f" stroke-width="0.5"/>
<line x1="456.80" y1="462.80" x2="459.40" y2="462.80" stroke="#67649f" stroke-width="0.5"/>
<line x1="456.80" y1="475.80" x2="459.40" y2="475.80" stroke="#67649f" stroke-width="0.5"/>
<line x1="506.00" y1="478.90" x2="506.00" y2="489.90" stroke="#67649f" stroke-width="0.5"/>
<line x1="504.70" y1="478.90" x2="507.30" y2="478.90" stroke="#67649f" stroke-width="0.5"/>
<line x1="504.70" y1="489.90" x2="507.30" y2="489.90" stroke="#67649f" stroke-width="0.5"/>
<line x1="410.60" y1="489.60" x2="506.00" y2="478.90" stroke="#67649f" stroke-width="2.2" stroke-dasharray="8.5 5"/>
<circle cx="410.10" cy="490.60" r="3" fill="#67649f"/>
<circle cx="414.30" cy="501.40" r="3" fill="#67649f"/>
<circle cx="418.10" cy="495.10" r="3" fill="#67649f"/>
<circle cx="420.10" cy="485.90" r="3" fill="#67649f"/>
<circle cx="429.60" cy="485.10" r="3" fill="#67649f"/>
<circle cx="458.10" cy="469.30" r="3" fill="#67649f"/>
<circle cx="506.00" cy="484.40" r="3" fill="#67649f"/>
<line x1="411.20" y1="486.60" x2="411.20" y2="498.60" stroke="#b06f87" stroke-width="0.5"/>
<line x1="409.90" y1="486.60" x2="412.50" y2="486.60" stroke="#b06f87" stroke-width="0.5"/>
<line x1="409.90" y1="498.60" x2="412.50" y2="498.60" stroke="#b06f87" stroke-width="0.5"/>
<line x1="414.30" y1="475.90" x2="414.30" y2="481.90" stroke="#b06f87" stroke-width="0.5"/>
<line x1="413.00" y1="475.90" x2="415.60" y2="475.90" stroke="#b06f87" stroke-width="0.5"/>
<line x1="413.00" y1="481.90" x2="415.60" y2="481.90" stroke="#b06f87" stroke-width="0.5"/>
<line x1="418.10" y1="471.30" x2="418.10" y2="477.30" stroke="#b06f87" stroke-width="0.5"/>
<line x1="416.80" y1="471.30" x2="419.40" y2="471.30" stroke="#b06f87" stroke-width="0.5"/>
<line x1="416.80" y1="477.30" x2="419.40" y2="477.30" stroke="#b06f87" stroke-width="0.5"/>
<line x1="420.10" y1="456.60" x2="420.10" y2="474.60" stroke="#b06f87" stroke-width="0.5"/>
<line x1="418.80" y1="456.60" x2="421.40" y2="456.60" stroke="#b06f87" stroke-width="0.5"/>
<line x1="418.80" y1="474.60" x2="421.40" y2="474.60" stroke="#b06f87" stroke-width="0.5"/>
<line x1="429.60" y1="434.80" x2="429.60" y2="447.80" stroke="#b06f87" stroke-width="0.5"/>
<line x1="428.30" y1="434.80" x2="430.90" y2="434.80" stroke="#b06f87" stroke-width="0.5"/>
<line x1="428.30" y1="447.80" x2="430.90" y2="447.80" stroke="#b06f87" stroke-width="0.5"/>
<line x1="458.10" y1="431.30" x2="458.10" y2="437.30" stroke="#b06f87" stroke-width="0.5"/>
<line x1="456.80" y1="431.30" x2="459.40" y2="431.30" stroke="#b06f87" stroke-width="0.5"/>
<line x1="456.80" y1="437.30" x2="459.40" y2="437.30" stroke="#b06f87" stroke-width="0.5"/>
<line x1="506.00" y1="425.80" x2="506.00" y2="435.80" stroke="#b06f87" stroke-width="0.5"/>
<line x1="504.70" y1="425.80" x2="507.30" y2="425.80" stroke="#b06f87" stroke-width="0.5"/>
<line x1="504.70" y1="435.80" x2="507.30" y2="435.80" stroke="#b06f87" stroke-width="0.5"/>
<path d="M410.60 493.90 L410.61 493.90 L410.64 493.89 L410.69 493.87 L410.74 493.85 L410.79 493.81 L410.86 493.75 L410.93 493.69 L411.01 493.60 L411.10 493.50 L411.19 493.38 L411.29 493.25 L411.39 493.09 L411.50 492.92 L411.61 492.72 L411.73 492.50 L411.85 492.26 L411.98 492.00 L412.11 491.72 L412.25 491.41 L412.39 491.08 L412.54 490.73 L412.68 490.35 L412.84 489.95 L413.00 489.53 L413.16 489.08 L413.32 488.61 L413.49 488.11 L413.67 487.60 L413.84 487.06 L414.02 486.49 L414.21 485.91 L414.40 485.30 L414.59 484.67 L414.78 484.02 L414.98 483.36 L415.18 482.67 L415.39 481.96 L415.60 481.23 L415.81 480.49 L416.03 479.73 L416.25 478.95 L416.47 478.16 L416.69 477.36 L416.92 476.54 L417.15 475.70 L417.39 474.86 L417.62 474.01 L417.86 473.15 L418.11 472.28 L418.35 471.40 L418.60 470.51 L418.86 469.63 L419.11 468.73 L419.37 467.84 L419.63 466.94 L419.90 466.04 L420.16 465.14 L420.43 464.24 L420.71 463.35 L420.98 462.46 L421.26 461.57 L421.54 460.69 L421.82 459.81 L422.11 458.94 L422.40 458.08 L422.69 457.23 L422.99 456.39 L423.28 455.56 L423.58 454.74 L423.89 453.94 L424.19 453.14 L424.50 452.36 L424.81 451.59 L425.12 450.84 L425.44 450.11 L425.75 449.39 L426.07 448.68 L426.40 447.99 L426.72 447.32 L427.05 446.66 L427.38 446.03 L427.71 445.41 L428.05 444.81 L428.39 444.22 L428.73 443.65 L429.07 443.11 L429.41 442.57 L429.76 442.06 L430.11 441.57 L430.46 441.09 L430.82 440.63 L431.17 440.19 L431.53 439.76 L431.89 439.35 L432.26 438.96 L432.62 438.59 L432.99 438.23 L433.36 437.88 L433.73 437.56 L434.11 437.24 L434.48 436.95 L434.86 436.66 L435.25 436.39 L435.63 436.14 L436.02 435.89 L436.40 435.66 L436.80 435.44 L437.19 435.24 L437.58 435.04 L437.98 434.86 L438.38 434.69 L438.78 434.52 L439.18 434.37 L439.59 434.23 L440.00 434.09 L440.41 433.96 L440.82 433.84 L441.24 433.73 L441.65 433.63 L442.07 433.53 L442.49 433.44 L442.91 433.36 L443.34 433.28 L443.77 433.21 L444.19 433.14 L444.63 433.08 L445.06 433.02 L445.49 432.97 L445.93 432.92 L446.37 432.87 L446.81 432.83 L447.25 432.79 L447.70 432.75 L448.15 432.72 L448.60 432.69 L449.05 432.66 L449.50 432.64 L449.96 432.62 L450.41 432.60 L450.87 432.58 L451.33 432.56 L451.80 432.54 L452.26 432.53 L452.73 432.52 L453.20 432.50 L453.67 432.49 L454.14 432.48 L454.62 432.47 L455.09 432.47 L455.57 432.46 L456.05 432.45 L456.54 432.45 L457.02 432.44 L457.51 432.44 L458.00 432.43 L458.49 432.43 L458.98 432.43 L459.47 432.42 L459.97 432.42 L460.47 432.42 L460.97 432.42 L461.47 432.41 L461.97 432.41 L462.48 432.41 L462.98 432.41 L463.49 432.41 L464.00 432.41 L464.51 432.41 L465.03 432.41 L465.55 432.40 L466.06 432.40 L466.58 432.40 L467.10 432.40 L467.63 432.40 L468.15 432.40 L468.68 432.40 L469.21 432.40 L469.74 432.40 L470.27 432.40 L470.81 432.40 L471.34 432.40 L471.88 432.40 L472.42 432.40 L472.96 432.40 L473.50 432.40 L474.05 432.40 L474.60 432.40 L475.15 432.40 L475.70 432.40 L476.25 432.40 L476.80 432.40 L477.36 432.40 L477.91 432.40 L478.47 432.40 L479.03 432.40 L479.60 432.40 L480.16 432.40 L480.73 432.40 L481.29 432.40 L481.86 432.40 L482.43 432.40 L483.01 432.40 L483.58 432.40 L484.16 432.40 L484.73 432.40 L485.31 432.40 L485.89 432.40 L486.48 432.40 L487.06 432.40 L487.65 432.40 L488.24 432.40 L488.83 432.40 L489.42 432.40 L490.01 432.40 L490.60 432.40 L491.20 432.40 L491.80 432.40 L492.40 432.40 L493.00 432.40 L493.60 432.40 L494.21 432.40 L494.81 432.40 L495.42 432.40 L496.03 432.40 L496.64 432.40 L497.25 432.40 L497.87 432.40 L498.48 432.40 L499.10 432.40 L499.72 432.40 L500.34 432.40 L500.96 432.40 L501.59 432.40 L502.21 432.40 L502.84 432.40 L503.47 432.40 L504.10 432.40 L504.73 432.40 L505.36 432.40 L506.00 432.40" fill="none" stroke="#b06f87" stroke-width="2.1" stroke-linecap="round" stroke-linejoin="round"/>
<circle cx="411.20" cy="492.60" r="3" fill="#b06f87"/>
<circle cx="414.30" cy="478.90" r="3" fill="#b06f87"/>
<circle cx="418.10" cy="474.30" r="3" fill="#b06f87"/>
<circle cx="420.10" cy="465.60" r="3" fill="#b06f87"/>
<circle cx="429.60" cy="441.30" r="3" fill="#b06f87"/>
<circle cx="458.10" cy="434.30" r="3" fill="#b06f87"/>
<circle cx="506.00" cy="430.80" r="3" fill="#b06f87"/>
<text x="448.40" y="502.60" font-size="9.2" fill="#8a88c9" textLength="45.00" lengthAdjust="spacingAndGlyphs">+LL (10 µM)</text>
<line x1="567.50" y1="421.40" x2="567.50" y2="515.30" stroke="#3c3c3c" stroke-width="0.67"/>
<line x1="565.00" y1="515.00" x2="681.50" y2="515.00" stroke="#3c3c3c" stroke-width="0.67"/>
<line x1="565.00" y1="421.40" x2="567.50" y2="421.40" stroke="#3c3c3c" stroke-width="0.67"/>
<text x="561.40" y="424.10" font-size="7.6" text-anchor="end" fill="#231f20" textLength="4.40" lengthAdjust="spacingAndGlyphs">3</text>
<line x1="565.00" y1="452.60" x2="567.50" y2="452.60" stroke="#3c3c3c" stroke-width="0.67"/>
<text x="561.40" y="455.30" font-size="7.6" text-anchor="end" fill="#231f20" textLength="4.40" lengthAdjust="spacingAndGlyphs">2</text>
<line x1="565.00" y1="483.80" x2="567.50" y2="483.80" stroke="#3c3c3c" stroke-width="0.67"/>
<text x="561.40" y="486.50" font-size="7.6" text-anchor="end" fill="#231f20" textLength="4.40" lengthAdjust="spacingAndGlyphs">1</text>
<line x1="565.00" y1="515.00" x2="567.50" y2="515.00" stroke="#3c3c3c" stroke-width="0.67"/>
<text x="561.40" y="517.70" font-size="7.6" text-anchor="end" fill="#231f20" textLength="4.40" lengthAdjust="spacingAndGlyphs">0</text>
<line x1="567.60" y1="515.00" x2="567.60" y2="518.00" stroke="#3c3c3c" stroke-width="0.67"/>
<text x="567.60" y="527.30" font-size="7.6" text-anchor="middle" fill="#231f20" textLength="4.40" lengthAdjust="spacingAndGlyphs">0</text>
<line x1="619.40" y1="515.00" x2="619.40" y2="518.00" stroke="#3c3c3c" stroke-width="0.67"/>
<text x="619.40" y="527.30" font-size="7.6" text-anchor="middle" fill="#231f20" textLength="8.79" lengthAdjust="spacingAndGlyphs">50</text>
<line x1="672.20" y1="515.00" x2="672.20" y2="518.00" stroke="#3c3c3c" stroke-width="0.67"/>
<text x="672.20" y="527.30" font-size="7.6" text-anchor="middle" fill="#231f20" textLength="13.19" lengthAdjust="spacingAndGlyphs">100</text>
<text x="592.10" y="542.50" font-size="9.2" fill="#231f20" textLength="64.80" lengthAdjust="spacingAndGlyphs">L-LEN–FITC (nM)</text>
<text x="547.30" y="468.00" font-size="9.2" text-anchor="middle" fill="#231f20" textLength="94.00" lengthAdjust="spacingAndGlyphs" transform="rotate(-90 547.30 468.00)">Relative nBRET ratio (%)</text>
<line x1="568.30" y1="492.90" x2="568.30" y2="498.90" stroke="#b4b4b4" stroke-width="0.5"/>
<line x1="567.00" y1="492.90" x2="569.60" y2="492.90" stroke="#b4b4b4" stroke-width="0.5"/>
<line x1="567.00" y1="498.90" x2="569.60" y2="498.90" stroke="#b4b4b4" stroke-width="0.5"/>
<line x1="572.10" y1="487.10" x2="572.10" y2="493.10" stroke="#b4b4b4" stroke-width="0.5"/>
<line x1="570.80" y1="487.10" x2="573.40" y2="487.10" stroke="#b4b4b4" stroke-width="0.5"/>
<line x1="570.80" y1="493.10" x2="573.40" y2="493.10" stroke="#b4b4b4" stroke-width="0.5"/>
<line x1="576.30" y1="477.90" x2="576.30" y2="485.90" stroke="#b4b4b4" stroke-width="0.5"/>
<line x1="575.00" y1="477.90" x2="577.60" y2="477.90" stroke="#b4b4b4" stroke-width="0.5"/>
<line x1="575.00" y1="485.90" x2="577.60" y2="485.90" stroke="#b4b4b4" stroke-width="0.5"/>
<line x1="578.10" y1="476.10" x2="578.10" y2="484.10" stroke="#b4b4b4" stroke-width="0.5"/>
<line x1="576.80" y1="476.10" x2="579.40" y2="476.10" stroke="#b4b4b4" stroke-width="0.5"/>
<line x1="576.80" y1="484.10" x2="579.40" y2="484.10" stroke="#b4b4b4" stroke-width="0.5"/>
<line x1="588.30" y1="472.40" x2="588.30" y2="481.40" stroke="#b4b4b4" stroke-width="0.5"/>
<line x1="587.00" y1="472.40" x2="589.60" y2="472.40" stroke="#b4b4b4" stroke-width="0.5"/>
<line x1="587.00" y1="481.40" x2="589.60" y2="481.40" stroke="#b4b4b4" stroke-width="0.5"/>
<line x1="619.40" y1="470.10" x2="619.40" y2="479.10" stroke="#b4b4b4" stroke-width="0.5"/>
<line x1="618.10" y1="470.10" x2="620.70" y2="470.10" stroke="#b4b4b4" stroke-width="0.5"/>
<line x1="618.10" y1="479.10" x2="620.70" y2="479.10" stroke="#b4b4b4" stroke-width="0.5"/>
<line x1="671.50" y1="465.60" x2="671.50" y2="475.60" stroke="#b4b4b4" stroke-width="0.5"/>
<line x1="670.20" y1="465.60" x2="672.80" y2="465.60" stroke="#b4b4b4" stroke-width="0.5"/>
<line x1="670.20" y1="475.60" x2="672.80" y2="475.60" stroke="#b4b4b4" stroke-width="0.5"/>
<circle cx="568.30" cy="495.90" r="3" fill="#c9c9c9"/>
<circle cx="572.10" cy="490.10" r="3" fill="#c9c9c9"/>
<circle cx="576.30" cy="481.90" r="3" fill="#c9c9c9"/>
<circle cx="578.10" cy="480.10" r="3" fill="#c9c9c9"/>
<circle cx="588.30" cy="476.90" r="3" fill="#c9c9c9"/>
<circle cx="619.40" cy="474.60" r="3" fill="#c9c9c9"/>
<circle cx="671.50" cy="470.60" r="3" fill="#c9c9c9"/>
<line x1="570.10" y1="477.60" x2="672.70" y2="463.80" stroke="#7d7d7d" stroke-width="2.2" stroke-dasharray="8.5 5"/>
<line x1="568.60" y1="483.90" x2="568.60" y2="493.90" stroke="#b06f87" stroke-width="0.5"/>
<line x1="567.30" y1="483.90" x2="569.90" y2="483.90" stroke="#b06f87" stroke-width="0.5"/>
<line x1="567.30" y1="493.90" x2="569.90" y2="493.90" stroke="#b06f87" stroke-width="0.5"/>
<line x1="575.80" y1="450.10" x2="575.80" y2="470.10" stroke="#b06f87" stroke-width="0.5"/>
<line x1="574.50" y1="450.10" x2="577.10" y2="450.10" stroke="#b06f87" stroke-width="0.5"/>
<line x1="574.50" y1="470.10" x2="577.10" y2="470.10" stroke="#b06f87" stroke-width="0.5"/>
<line x1="577.60" y1="438.60" x2="577.60" y2="460.60" stroke="#b06f87" stroke-width="0.5"/>
<line x1="576.30" y1="438.60" x2="578.90" y2="438.60" stroke="#b06f87" stroke-width="0.5"/>
<line x1="576.30" y1="460.60" x2="578.90" y2="460.60" stroke="#b06f87" stroke-width="0.5"/>
<line x1="588.30" y1="428.00" x2="588.30" y2="446.00" stroke="#b06f87" stroke-width="0.5"/>
<line x1="587.00" y1="428.00" x2="589.60" y2="428.00" stroke="#b06f87" stroke-width="0.5"/>
<line x1="587.00" y1="446.00" x2="589.60" y2="446.00" stroke="#b06f87" stroke-width="0.5"/>
<line x1="619.40" y1="434.00" x2="619.40" y2="450.00" stroke="#b06f87" stroke-width="0.5"/>
<line x1="618.10" y1="434.00" x2="620.70" y2="434.00" stroke="#b06f87" stroke-width="0.5"/>
<line x1="618.10" y1="450.00" x2="620.70" y2="450.00" stroke="#b06f87" stroke-width="0.5"/>
<line x1="671.50" y1="423.80" x2="671.50" y2="437.80" stroke="#b06f87" stroke-width="0.5"/>
<line x1="670.20" y1="423.80" x2="672.80" y2="423.80" stroke="#b06f87" stroke-width="0.5"/>
<line x1="670.20" y1="437.80" x2="672.80" y2="437.80" stroke="#b06f87" stroke-width="0.5"/>
<path d="M567.60 510.20 L567.62 510.00 L567.65 509.59 L567.69 509.04 L567.75 508.38 L567.81 507.61 L567.89 506.75 L567.97 505.81 L568.05 504.80 L568.15 503.73 L568.25 502.61 L568.35 501.43 L568.47 500.22 L568.59 498.96 L568.71 497.67 L568.84 496.35 L568.97 495.01 L569.11 493.64 L569.26 492.26 L569.41 490.87 L569.56 489.47 L569.72 488.06 L569.89 486.65 L570.05 485.24 L570.23 483.84 L570.40 482.44 L570.59 481.04 L570.77 479.66 L570.96 478.29 L571.16 476.93 L571.35 475.59 L571.56 474.27 L571.76 472.96 L571.97 471.67 L572.19 470.41 L572.41 469.17 L572.63 467.95 L572.85 466.76 L573.08 465.59 L573.31 464.45 L573.55 463.33 L573.79 462.24 L574.03 461.18 L574.28 460.14 L574.53 459.13 L574.78 458.15 L575.04 457.20 L575.30 456.28 L575.56 455.38 L575.83 454.51 L576.10 453.67 L576.38 452.85 L576.65 452.07 L576.93 451.30 L577.22 450.57 L577.50 449.86 L577.79 449.18 L578.09 448.52 L578.38 447.88 L578.68 447.27 L578.98 446.69 L579.29 446.12 L579.60 445.58 L579.91 445.06 L580.22 444.57 L580.54 444.09 L580.86 443.63 L581.18 443.20 L581.51 442.78 L581.83 442.38 L582.17 442.00 L582.50 441.63 L582.84 441.28 L583.18 440.95 L583.52 440.64 L583.87 440.34 L584.21 440.05 L584.57 439.78 L584.92 439.52 L585.28 439.27 L585.64 439.04 L586.00 438.81 L586.36 438.60 L586.73 438.40 L587.10 438.21 L587.47 438.03 L587.85 437.86 L588.23 437.70 L588.61 437.55 L588.99 437.41 L589.38 437.27 L589.76 437.14 L590.16 437.02 L590.55 436.91 L590.95 436.80 L591.34 436.70 L591.75 436.60 L592.15 436.51 L592.55 436.43 L592.96 436.35 L593.37 436.27 L593.79 436.20 L594.20 436.13 L594.62 436.07 L595.04 436.01 L595.47 435.96 L595.89 435.91 L596.32 435.86 L596.75 435.81 L597.19 435.77 L597.62 435.73 L598.06 435.70 L598.50 435.66 L598.94 435.63 L599.39 435.60 L599.83 435.57 L600.28 435.54 L600.74 435.52 L601.19 435.50 L601.65 435.47 L602.11 435.45 L602.57 435.44 L603.03 435.42 L603.50 435.40 L603.96 435.39 L604.43 435.37 L604.91 435.36 L605.38 435.35 L605.86 435.34 L606.34 435.33 L606.82 435.32 L607.30 435.31 L607.79 435.30 L608.28 435.29 L608.77 435.28 L609.26 435.28 L609.76 435.27 L610.25 435.27 L610.75 435.26 L611.25 435.26 L611.76 435.25 L612.26 435.25 L612.77 435.24 L613.28 435.24 L613.79 435.24 L614.31 435.23 L614.82 435.23 L615.34 435.23 L615.86 435.23 L616.39 435.22 L616.91 435.22 L617.44 435.22 L617.97 435.22 L618.50 435.22 L619.03 435.22 L619.57 435.21 L620.10 435.21 L620.64 435.21 L621.19 435.21 L621.73 435.21 L622.27 435.21 L622.82 435.21 L623.37 435.21 L623.92 435.21 L624.48 435.21 L625.03 435.21 L625.59 435.21 L626.15 435.20 L626.71 435.20 L627.28 435.20 L627.84 435.20 L628.41 435.20 L628.98 435.20 L629.55 435.20 L630.13 435.20 L630.70 435.20 L631.28 435.20 L631.86 435.20 L632.44 435.20 L633.03 435.20 L633.61 435.20 L634.20 435.20 L634.79 435.20 L635.38 435.20 L635.98 435.20 L636.57 435.20 L637.17 435.20 L637.77 435.20 L638.37 435.20 L638.97 435.20 L639.58 435.20 L640.19 435.20 L640.79 435.20 L641.40 435.20 L642.02 435.20 L642.63 435.20 L643.25 435.20 L643.87 435.20 L644.49 435.20 L645.11 435.20 L645.73 435.20 L646.36 435.20 L646.99 435.20 L647.62 435.20 L648.25 435.20 L648.88 435.20 L649.52 435.20 L650.16 435.20 L650.79 435.20 L651.44 435.20 L652.08 435.20 L652.72 435.20 L653.37 435.20 L654.02 435.20 L654.67 435.20 L655.32 435.20 L655.97 435.20 L656.63 435.20 L657.29 435.20 L657.95 435.20 L658.61 435.20 L659.27 435.20 L659.93 435.20 L660.60 435.20 L661.27 435.20 L661.94 435.20 L662.61 435.20 L663.28 435.20 L663.96 435.20 L664.64 435.20 L665.31 435.20 L665.99 435.20 L666.68 435.20 L667.36 435.20 L668.05 435.20 L668.74 435.20 L669.42 435.20 L670.12 435.20 L670.81 435.20 L671.50 435.20 L672.20 435.20" fill="none" stroke="#b06f87" stroke-width="2.1" stroke-linecap="round" stroke-linejoin="round"/>
<circle cx="568.60" cy="488.90" r="3" fill="#b06f87"/>
<circle cx="575.80" cy="460.10" r="3" fill="#b06f87"/>
<circle cx="577.60" cy="449.60" r="3" fill="#b06f87"/>
<circle cx="588.30" cy="437.00" r="3" fill="#b06f87"/>
<circle cx="619.40" cy="442.00" r="3" fill="#b06f87"/>
<circle cx="671.50" cy="430.80" r="3" fill="#b06f87"/>
<text x="629.70" y="447.60" font-size="9.2" fill="#b06f87" textLength="26.70" lengthAdjust="spacingAndGlyphs">GPR50</text>
<text x="626.90" y="492.10" font-size="9.2" fill="#858585" textLength="27.50" lengthAdjust="spacingAndGlyphs">GPR171</text>
</g>
</svg>
</body></html>
